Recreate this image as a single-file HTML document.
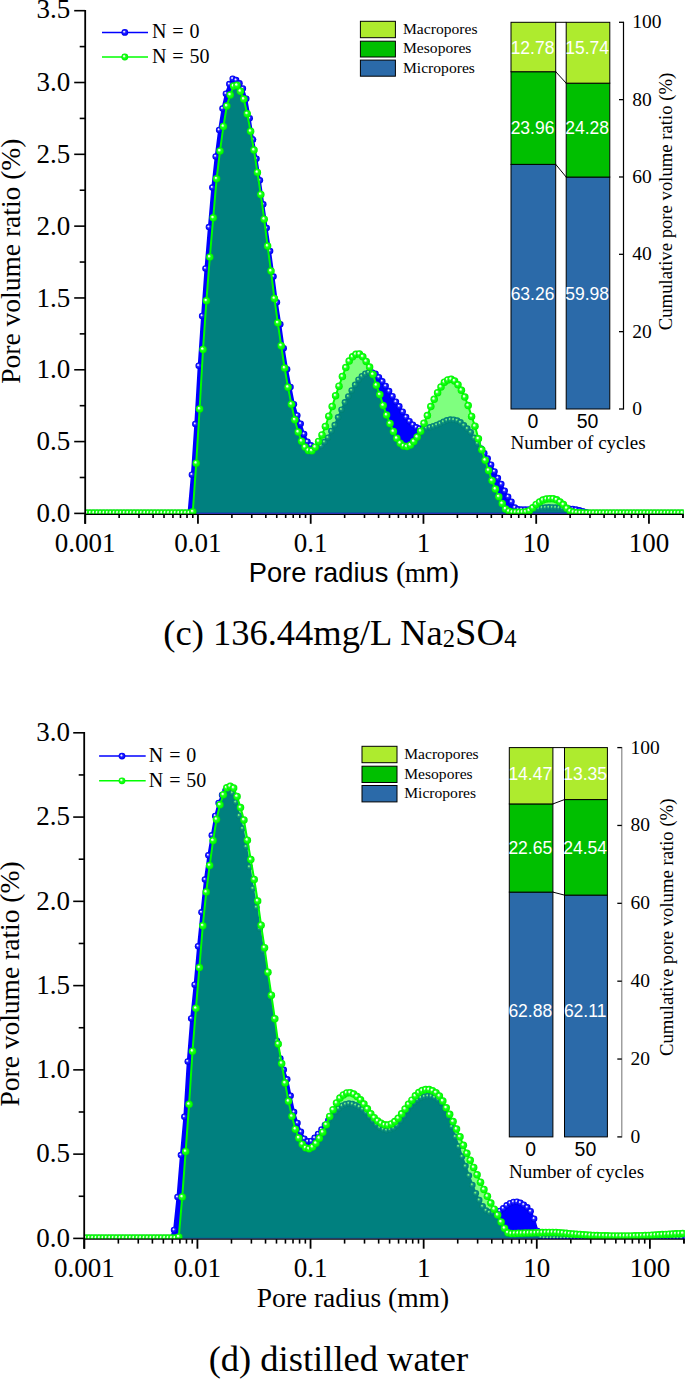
<!DOCTYPE html>
<html><head><meta charset="utf-8"><style>html,body{margin:0;padding:0;background:#fff;overflow:hidden;width:685px;height:1379px;}svg{display:block;}</style></head><body>
<svg width="685" height="1379" viewBox="0 0 685 1379">
<rect width="685" height="1379" fill="#fff"/>
<defs>
<radialGradient id="gg" cx="0.5" cy="0.5" r="0.5" fx="0.36" fy="0.34"><stop offset="0" stop-color="#ffffff"/><stop offset="0.18" stop-color="#e0ffe0"/><stop offset="0.45" stop-color="#20ff20"/><stop offset="0.85" stop-color="#00ff00"/><stop offset="1" stop-color="#00e400"/></radialGradient>
<radialGradient id="gb" cx="0.5" cy="0.5" r="0.5" fx="0.38" fy="0.36"><stop offset="0" stop-color="#ffffff"/><stop offset="0.16" stop-color="#dcdcff"/><stop offset="0.42" stop-color="#2828ff"/><stop offset="0.85" stop-color="#0000ff"/><stop offset="1" stop-color="#0000d8"/></radialGradient>
</defs>
<clipPath id="clipc"><rect x="85.2" y="2.69" width="598.69" height="511.2"/></clipPath>
<g clip-path="url(#clipc)">
<polygon points="86.5,513 86.5,513 89.9,513 93.3,513 96.7,513 100.1,513 103.5,513 106.9,513 110.3,513 113.7,513 117.1,513 120.5,513 123.9,513 127.3,513 130.7,513 134.1,513 137.5,513 140.9,513 144.3,513 147.7,513 151.1,513 154.5,513 157.9,513 161.3,513 164.7,513 168.1,513 171.5,513 174.9,513 178.3,513 181.7,513 185.1,513 188.5,513 191.9,474.63 195.3,424.07 198.7,365.77 202.1,315.92 205.5,268.4 208.9,227.1 212.3,187.55 215.7,156.44 219.1,130 222.5,108.56 225.9,93.64 229.3,84.1 232.7,78.71 236.1,80.08 239.5,83.3 242.9,88.46 246.3,98.76 249.7,118.19 253.1,139.57 256.5,158.76 259.9,180.37 263.3,204.2 266.7,228.08 270.1,251.05 273.5,276.5 276.9,302.33 280.3,324.37 283.7,348.27 287.1,369.13 290.5,386.92 293.9,404.16 297.3,415.4 300.7,423.74 304.1,433.98 307.5,441.74 310.9,445.25 314.3,447.26 317.7,447.59 321.1,445.71 324.5,442 327.9,437.66 331.3,430.97 334.7,425.06 338.1,417.33 341.5,409.64 344.9,402.28 348.3,396.38 351.7,390.46 355.1,384.75 358.5,379.64 361.9,376.15 365.3,373.8 368.7,372.4 372.1,372.4 375.5,373.69 378.9,377.22 382.3,381.24 385.7,385.96 389.1,391.1 392.5,396.13 395.9,401.78 399.3,406.33 402.7,411.7 406.1,417.06 409.5,421.15 412.9,424.74 416.3,427.26 419.7,428.43 423.1,428.4 426.5,427.98 429.9,427.16 433.3,426.2 436.7,424.91 440.1,423.53 443.5,421.87 446.9,420.27 450.3,419.62 453.7,419.74 457.1,420.43 460.5,422.28 463.9,425.25 467.3,428.6 470.7,432.17 474.1,437.8 477.5,443.32 480.9,448.57 484.3,453.36 487.7,458.42 491.1,464.69 494.5,471.41 497.9,478.06 501.3,484.05 504.7,490.83 508.1,496.73 511.5,501.83 514.9,507.54 518.3,509.22 521.7,509.4 525.1,509.4 528.5,509.39 531.9,509.15 535.3,508.77 538.7,508.26 542.1,507.79 545.5,507.46 548.9,507.3 552.3,507.39 555.7,507.58 559.1,507.87 562.5,508.25 565.9,508.55 569.3,508.79 572.7,509.05 576.1,509.48 579.5,510.32 582.9,511.24 586.3,512.34 589.7,512.99 593.1,513 596.5,513 599.9,513 603.3,513 606.7,513 610.1,513 613.5,513 616.9,513 620.3,513 623.7,513 627.1,513 630.5,513 633.9,513 637.3,513 640.7,513 644.1,513 647.5,513 650.9,513 654.3,513 657.7,513 661.1,513 664.5,513 667.9,513 671.3,513 674.7,513 678.1,513 681.5,513 681.5,513" fill="#0000ff"/>
<polyline points="86.5,513 89.9,513 93.3,513 96.7,513 100.1,513 103.5,513 106.9,513 110.3,513 113.7,513 117.1,513 120.5,513 123.9,513 127.3,513 130.7,513 134.1,513 137.5,513 140.9,513 144.3,513 147.7,513 151.1,513 154.5,513 157.9,513 161.3,513 164.7,513 168.1,513 171.5,513 174.9,513 178.3,513 181.7,513 185.1,513 188.5,513 191.9,474.63 195.3,424.07 198.7,365.77 202.1,315.92 205.5,268.4 208.9,227.1 212.3,187.55 215.7,156.44 219.1,130 222.5,108.56 225.9,93.64 229.3,84.1 232.7,78.71 236.1,80.08 239.5,83.3 242.9,88.46 246.3,98.76 249.7,118.19 253.1,139.57 256.5,158.76 259.9,180.37 263.3,204.2 266.7,228.08 270.1,251.05 273.5,276.5 276.9,302.33 280.3,324.37 283.7,348.27 287.1,369.13 290.5,386.92 293.9,404.16 297.3,415.4 300.7,423.74 304.1,433.98 307.5,441.74 310.9,445.25 314.3,447.26 317.7,447.59 321.1,445.71 324.5,442 327.9,437.66 331.3,430.97 334.7,425.06 338.1,417.33 341.5,409.64 344.9,402.28 348.3,396.38 351.7,390.46 355.1,384.75 358.5,379.64 361.9,376.15 365.3,373.8 368.7,372.4 372.1,372.4 375.5,373.69 378.9,377.22 382.3,381.24 385.7,385.96 389.1,391.1 392.5,396.13 395.9,401.78 399.3,406.33 402.7,411.7 406.1,417.06 409.5,421.15 412.9,424.74 416.3,427.26 419.7,428.43 423.1,428.4 426.5,427.98 429.9,427.16 433.3,426.2 436.7,424.91 440.1,423.53 443.5,421.87 446.9,420.27 450.3,419.62 453.7,419.74 457.1,420.43 460.5,422.28 463.9,425.25 467.3,428.6 470.7,432.17 474.1,437.8 477.5,443.32 480.9,448.57 484.3,453.36 487.7,458.42 491.1,464.69 494.5,471.41 497.9,478.06 501.3,484.05 504.7,490.83 508.1,496.73 511.5,501.83 514.9,507.54 518.3,509.22 521.7,509.4 525.1,509.4 528.5,509.39 531.9,509.15 535.3,508.77 538.7,508.26 542.1,507.79 545.5,507.46 548.9,507.3 552.3,507.39 555.7,507.58 559.1,507.87 562.5,508.25 565.9,508.55 569.3,508.79 572.7,509.05 576.1,509.48 579.5,510.32 582.9,511.24 586.3,512.34 589.7,512.99 593.1,513 596.5,513 599.9,513 603.3,513 606.7,513 610.1,513 613.5,513 616.9,513 620.3,513 623.7,513 627.1,513 630.5,513 633.9,513 637.3,513 640.7,513 644.1,513 647.5,513 650.9,513 654.3,513 657.7,513 661.1,513 664.5,513 667.9,513 671.3,513 674.7,513 678.1,513 681.5,513" fill="none" stroke="#0000ff" stroke-width="2"/>
<circle cx="86.5" cy="513" r="3.25" fill="url(#gb)"/>
<circle cx="89.9" cy="513" r="3.25" fill="url(#gb)"/>
<circle cx="93.3" cy="513" r="3.25" fill="url(#gb)"/>
<circle cx="96.7" cy="513" r="3.25" fill="url(#gb)"/>
<circle cx="100.1" cy="513" r="3.25" fill="url(#gb)"/>
<circle cx="103.5" cy="513" r="3.25" fill="url(#gb)"/>
<circle cx="106.9" cy="513" r="3.25" fill="url(#gb)"/>
<circle cx="110.3" cy="513" r="3.25" fill="url(#gb)"/>
<circle cx="113.7" cy="513" r="3.25" fill="url(#gb)"/>
<circle cx="117.1" cy="513" r="3.25" fill="url(#gb)"/>
<circle cx="120.5" cy="513" r="3.25" fill="url(#gb)"/>
<circle cx="123.9" cy="513" r="3.25" fill="url(#gb)"/>
<circle cx="127.3" cy="513" r="3.25" fill="url(#gb)"/>
<circle cx="130.7" cy="513" r="3.25" fill="url(#gb)"/>
<circle cx="134.1" cy="513" r="3.25" fill="url(#gb)"/>
<circle cx="137.5" cy="513" r="3.25" fill="url(#gb)"/>
<circle cx="140.9" cy="513" r="3.25" fill="url(#gb)"/>
<circle cx="144.3" cy="513" r="3.25" fill="url(#gb)"/>
<circle cx="147.7" cy="513" r="3.25" fill="url(#gb)"/>
<circle cx="151.1" cy="513" r="3.25" fill="url(#gb)"/>
<circle cx="154.5" cy="513" r="3.25" fill="url(#gb)"/>
<circle cx="157.9" cy="513" r="3.25" fill="url(#gb)"/>
<circle cx="161.3" cy="513" r="3.25" fill="url(#gb)"/>
<circle cx="164.7" cy="513" r="3.25" fill="url(#gb)"/>
<circle cx="168.1" cy="513" r="3.25" fill="url(#gb)"/>
<circle cx="171.5" cy="513" r="3.25" fill="url(#gb)"/>
<circle cx="174.9" cy="513" r="3.25" fill="url(#gb)"/>
<circle cx="178.3" cy="513" r="3.25" fill="url(#gb)"/>
<circle cx="181.7" cy="513" r="3.25" fill="url(#gb)"/>
<circle cx="185.1" cy="513" r="3.25" fill="url(#gb)"/>
<circle cx="188.5" cy="513" r="3.25" fill="url(#gb)"/>
<circle cx="191.9" cy="474.63" r="3.25" fill="url(#gb)"/>
<circle cx="195.3" cy="424.07" r="3.25" fill="url(#gb)"/>
<circle cx="198.7" cy="365.77" r="3.25" fill="url(#gb)"/>
<circle cx="202.1" cy="315.92" r="3.25" fill="url(#gb)"/>
<circle cx="205.5" cy="268.4" r="3.25" fill="url(#gb)"/>
<circle cx="208.9" cy="227.1" r="3.25" fill="url(#gb)"/>
<circle cx="212.3" cy="187.55" r="3.25" fill="url(#gb)"/>
<circle cx="215.7" cy="156.44" r="3.25" fill="url(#gb)"/>
<circle cx="219.1" cy="130" r="3.25" fill="url(#gb)"/>
<circle cx="222.5" cy="108.56" r="3.25" fill="url(#gb)"/>
<circle cx="225.9" cy="93.64" r="3.25" fill="url(#gb)"/>
<circle cx="229.3" cy="84.1" r="3.25" fill="url(#gb)"/>
<circle cx="232.7" cy="78.71" r="3.25" fill="url(#gb)"/>
<circle cx="236.1" cy="80.08" r="3.25" fill="url(#gb)"/>
<circle cx="239.5" cy="83.3" r="3.25" fill="url(#gb)"/>
<circle cx="242.9" cy="88.46" r="3.25" fill="url(#gb)"/>
<circle cx="246.3" cy="98.76" r="3.25" fill="url(#gb)"/>
<circle cx="249.7" cy="118.19" r="3.25" fill="url(#gb)"/>
<circle cx="253.1" cy="139.57" r="3.25" fill="url(#gb)"/>
<circle cx="256.5" cy="158.76" r="3.25" fill="url(#gb)"/>
<circle cx="259.9" cy="180.37" r="3.25" fill="url(#gb)"/>
<circle cx="263.3" cy="204.2" r="3.25" fill="url(#gb)"/>
<circle cx="266.7" cy="228.08" r="3.25" fill="url(#gb)"/>
<circle cx="270.1" cy="251.05" r="3.25" fill="url(#gb)"/>
<circle cx="273.5" cy="276.5" r="3.25" fill="url(#gb)"/>
<circle cx="276.9" cy="302.33" r="3.25" fill="url(#gb)"/>
<circle cx="280.3" cy="324.37" r="3.25" fill="url(#gb)"/>
<circle cx="283.7" cy="348.27" r="3.25" fill="url(#gb)"/>
<circle cx="287.1" cy="369.13" r="3.25" fill="url(#gb)"/>
<circle cx="290.5" cy="386.92" r="3.25" fill="url(#gb)"/>
<circle cx="293.9" cy="404.16" r="3.25" fill="url(#gb)"/>
<circle cx="297.3" cy="415.4" r="3.25" fill="url(#gb)"/>
<circle cx="300.7" cy="423.74" r="3.25" fill="url(#gb)"/>
<circle cx="304.1" cy="433.98" r="3.25" fill="url(#gb)"/>
<circle cx="307.5" cy="441.74" r="3.25" fill="url(#gb)"/>
<circle cx="310.9" cy="445.25" r="3.25" fill="url(#gb)"/>
<circle cx="314.3" cy="447.26" r="3.25" fill="url(#gb)"/>
<circle cx="317.7" cy="447.59" r="3.25" fill="url(#gb)"/>
<circle cx="321.1" cy="445.71" r="3.25" fill="url(#gb)"/>
<circle cx="324.5" cy="442" r="3.25" fill="url(#gb)"/>
<circle cx="327.9" cy="437.66" r="3.25" fill="url(#gb)"/>
<circle cx="331.3" cy="430.97" r="3.25" fill="url(#gb)"/>
<circle cx="334.7" cy="425.06" r="3.25" fill="url(#gb)"/>
<circle cx="338.1" cy="417.33" r="3.25" fill="url(#gb)"/>
<circle cx="341.5" cy="409.64" r="3.25" fill="url(#gb)"/>
<circle cx="344.9" cy="402.28" r="3.25" fill="url(#gb)"/>
<circle cx="348.3" cy="396.38" r="3.25" fill="url(#gb)"/>
<circle cx="351.7" cy="390.46" r="3.25" fill="url(#gb)"/>
<circle cx="355.1" cy="384.75" r="3.25" fill="url(#gb)"/>
<circle cx="358.5" cy="379.64" r="3.25" fill="url(#gb)"/>
<circle cx="361.9" cy="376.15" r="3.25" fill="url(#gb)"/>
<circle cx="365.3" cy="373.8" r="3.25" fill="url(#gb)"/>
<circle cx="368.7" cy="372.4" r="3.25" fill="url(#gb)"/>
<circle cx="372.1" cy="372.4" r="3.25" fill="url(#gb)"/>
<circle cx="375.5" cy="373.69" r="3.25" fill="url(#gb)"/>
<circle cx="378.9" cy="377.22" r="3.25" fill="url(#gb)"/>
<circle cx="382.3" cy="381.24" r="3.25" fill="url(#gb)"/>
<circle cx="385.7" cy="385.96" r="3.25" fill="url(#gb)"/>
<circle cx="389.1" cy="391.1" r="3.25" fill="url(#gb)"/>
<circle cx="392.5" cy="396.13" r="3.25" fill="url(#gb)"/>
<circle cx="395.9" cy="401.78" r="3.25" fill="url(#gb)"/>
<circle cx="399.3" cy="406.33" r="3.25" fill="url(#gb)"/>
<circle cx="402.7" cy="411.7" r="3.25" fill="url(#gb)"/>
<circle cx="406.1" cy="417.06" r="3.25" fill="url(#gb)"/>
<circle cx="409.5" cy="421.15" r="3.25" fill="url(#gb)"/>
<circle cx="412.9" cy="424.74" r="3.25" fill="url(#gb)"/>
<circle cx="416.3" cy="427.26" r="3.25" fill="url(#gb)"/>
<circle cx="419.7" cy="428.43" r="3.25" fill="url(#gb)"/>
<circle cx="423.1" cy="428.4" r="3.25" fill="url(#gb)"/>
<circle cx="426.5" cy="427.98" r="3.25" fill="url(#gb)"/>
<circle cx="429.9" cy="427.16" r="3.25" fill="url(#gb)"/>
<circle cx="433.3" cy="426.2" r="3.25" fill="url(#gb)"/>
<circle cx="436.7" cy="424.91" r="3.25" fill="url(#gb)"/>
<circle cx="440.1" cy="423.53" r="3.25" fill="url(#gb)"/>
<circle cx="443.5" cy="421.87" r="3.25" fill="url(#gb)"/>
<circle cx="446.9" cy="420.27" r="3.25" fill="url(#gb)"/>
<circle cx="450.3" cy="419.62" r="3.25" fill="url(#gb)"/>
<circle cx="453.7" cy="419.74" r="3.25" fill="url(#gb)"/>
<circle cx="457.1" cy="420.43" r="3.25" fill="url(#gb)"/>
<circle cx="460.5" cy="422.28" r="3.25" fill="url(#gb)"/>
<circle cx="463.9" cy="425.25" r="3.25" fill="url(#gb)"/>
<circle cx="467.3" cy="428.6" r="3.25" fill="url(#gb)"/>
<circle cx="470.7" cy="432.17" r="3.25" fill="url(#gb)"/>
<circle cx="474.1" cy="437.8" r="3.25" fill="url(#gb)"/>
<circle cx="477.5" cy="443.32" r="3.25" fill="url(#gb)"/>
<circle cx="480.9" cy="448.57" r="3.25" fill="url(#gb)"/>
<circle cx="484.3" cy="453.36" r="3.25" fill="url(#gb)"/>
<circle cx="487.7" cy="458.42" r="3.25" fill="url(#gb)"/>
<circle cx="491.1" cy="464.69" r="3.25" fill="url(#gb)"/>
<circle cx="494.5" cy="471.41" r="3.25" fill="url(#gb)"/>
<circle cx="497.9" cy="478.06" r="3.25" fill="url(#gb)"/>
<circle cx="501.3" cy="484.05" r="3.25" fill="url(#gb)"/>
<circle cx="504.7" cy="490.83" r="3.25" fill="url(#gb)"/>
<circle cx="508.1" cy="496.73" r="3.25" fill="url(#gb)"/>
<circle cx="511.5" cy="501.83" r="3.25" fill="url(#gb)"/>
<circle cx="514.9" cy="507.54" r="3.25" fill="url(#gb)"/>
<circle cx="518.3" cy="509.22" r="3.25" fill="url(#gb)"/>
<circle cx="521.7" cy="509.4" r="3.25" fill="url(#gb)"/>
<circle cx="525.1" cy="509.4" r="3.25" fill="url(#gb)"/>
<circle cx="528.5" cy="509.39" r="3.25" fill="url(#gb)"/>
<circle cx="531.9" cy="509.15" r="3.25" fill="url(#gb)"/>
<circle cx="535.3" cy="508.77" r="3.25" fill="url(#gb)"/>
<circle cx="538.7" cy="508.26" r="3.25" fill="url(#gb)"/>
<circle cx="542.1" cy="507.79" r="3.25" fill="url(#gb)"/>
<circle cx="545.5" cy="507.46" r="3.25" fill="url(#gb)"/>
<circle cx="548.9" cy="507.3" r="3.25" fill="url(#gb)"/>
<circle cx="552.3" cy="507.39" r="3.25" fill="url(#gb)"/>
<circle cx="555.7" cy="507.58" r="3.25" fill="url(#gb)"/>
<circle cx="559.1" cy="507.87" r="3.25" fill="url(#gb)"/>
<circle cx="562.5" cy="508.25" r="3.25" fill="url(#gb)"/>
<circle cx="565.9" cy="508.55" r="3.25" fill="url(#gb)"/>
<circle cx="569.3" cy="508.79" r="3.25" fill="url(#gb)"/>
<circle cx="572.7" cy="509.05" r="3.25" fill="url(#gb)"/>
<circle cx="576.1" cy="509.48" r="3.25" fill="url(#gb)"/>
<circle cx="579.5" cy="510.32" r="3.25" fill="url(#gb)"/>
<circle cx="582.9" cy="511.24" r="3.25" fill="url(#gb)"/>
<circle cx="586.3" cy="512.34" r="3.25" fill="url(#gb)"/>
<circle cx="589.7" cy="512.99" r="3.25" fill="url(#gb)"/>
<circle cx="593.1" cy="513" r="3.25" fill="url(#gb)"/>
<circle cx="596.5" cy="513" r="3.25" fill="url(#gb)"/>
<circle cx="599.9" cy="513" r="3.25" fill="url(#gb)"/>
<circle cx="603.3" cy="513" r="3.25" fill="url(#gb)"/>
<circle cx="606.7" cy="513" r="3.25" fill="url(#gb)"/>
<circle cx="610.1" cy="513" r="3.25" fill="url(#gb)"/>
<circle cx="613.5" cy="513" r="3.25" fill="url(#gb)"/>
<circle cx="616.9" cy="513" r="3.25" fill="url(#gb)"/>
<circle cx="620.3" cy="513" r="3.25" fill="url(#gb)"/>
<circle cx="623.7" cy="513" r="3.25" fill="url(#gb)"/>
<circle cx="627.1" cy="513" r="3.25" fill="url(#gb)"/>
<circle cx="630.5" cy="513" r="3.25" fill="url(#gb)"/>
<circle cx="633.9" cy="513" r="3.25" fill="url(#gb)"/>
<circle cx="637.3" cy="513" r="3.25" fill="url(#gb)"/>
<circle cx="640.7" cy="513" r="3.25" fill="url(#gb)"/>
<circle cx="644.1" cy="513" r="3.25" fill="url(#gb)"/>
<circle cx="647.5" cy="513" r="3.25" fill="url(#gb)"/>
<circle cx="650.9" cy="513" r="3.25" fill="url(#gb)"/>
<circle cx="654.3" cy="513" r="3.25" fill="url(#gb)"/>
<circle cx="657.7" cy="513" r="3.25" fill="url(#gb)"/>
<circle cx="661.1" cy="513" r="3.25" fill="url(#gb)"/>
<circle cx="664.5" cy="513" r="3.25" fill="url(#gb)"/>
<circle cx="667.9" cy="513" r="3.25" fill="url(#gb)"/>
<circle cx="671.3" cy="513" r="3.25" fill="url(#gb)"/>
<circle cx="674.7" cy="513" r="3.25" fill="url(#gb)"/>
<circle cx="678.1" cy="513" r="3.25" fill="url(#gb)"/>
<circle cx="681.5" cy="513" r="3.25" fill="url(#gb)"/>
<polygon points="87.4,513 87.4,513 90.8,513 94.2,513 97.6,513 101,513 104.4,513 107.8,513 111.2,513 114.6,513 118,513 121.4,513 124.8,513 128.2,513 131.6,513 135,513 138.4,513 141.8,513 145.2,513 148.6,513 152,513 155.4,513 158.8,513 162.2,513 165.6,513 169,513 172.4,513 175.8,513 179.2,513 182.6,513 186,513 189.4,513 192.8,511.81 196.2,463.22 199.6,409.05 203,349.44 206.4,300.74 209.8,257.1 213.2,217.75 216.6,178.75 220,150.97 223.4,126.4 226.8,105.98 230.2,94.88 233.6,86.11 237,85.35 240.4,91.34 243.8,99.11 247.2,113.7 250.6,131.33 254,150.1 257.4,172.4 260.8,194.43 264.2,219.18 267.6,246.1 271,271.03 274.4,298.46 277.8,322.8 281.2,345.64 284.6,368 288,387.17 291.4,404.25 294.8,419.79 298.2,432.04 301.6,441.13 305,447.03 308.4,450.4 311.8,450.73 315.2,447.17 318.6,441.44 322,434.93 325.4,426.5 328.8,416.27 332.2,406.46 335.6,395.72 339,386.15 342.4,376.54 345.8,367.54 349.2,361.11 352.6,356.79 356,354.34 359.4,354.01 362.8,356.7 366.2,361.4 369.6,367.01 373,374.48 376.4,385.29 379.8,394.6 383.2,405.4 386.6,415.03 390,423.44 393.4,431.5 396.8,438.33 400.2,443.2 403.6,445.9 407,446.59 410.4,445.06 413.8,441.51 417.2,437.1 420.6,431.2 424,423.32 427.4,415.59 430.8,406.56 434.2,399.35 437.6,392.7 441,387.04 444.4,382.19 447.8,379.94 451.2,379.3 454.6,380.93 458,384.77 461.4,390.28 464.8,397.1 468.2,405.62 471.6,416.4 475,426.2 478.4,438.8 481.8,449.85 485.2,460.21 488.6,470.4 492,480.57 495.4,489.1 498.8,496.69 502.2,503.55 505.6,508.9 509,511.35 512.4,512.27 515.8,512.3 519.2,512.3 522.6,512.21 526,511.84 529.4,510.68 532.8,507.79 536.2,504.4 539.6,502.1 543,500.1 546.4,499.01 549.8,498.7 553.2,498.7 556.6,499.8 560,501.93 563.4,504.62 566.8,508.34 570.2,511.18 573.6,512.29 577,512.65 580.4,512.81 583.8,512.92 587.2,512.98 590.6,513 594,513 597.4,513 600.8,513 604.2,513 607.6,513 611,513 614.4,513 617.8,513 621.2,513 624.6,513 628,513 631.4,513 634.8,513 638.2,513 641.6,513 645,513 648.4,513 651.8,513 655.2,513 658.6,513 662,513 665.4,513 668.8,513 672.2,513 675.6,513 679,513 682.4,513 682.4,513" fill="#00ff00" fill-opacity="0.5"/>
<line x1="189" y1="513.25" x2="590" y2="513.25" stroke="#0000e0" stroke-width="1.1"/>
<polyline points="87.4,513 90.8,513 94.2,513 97.6,513 101,513 104.4,513 107.8,513 111.2,513 114.6,513 118,513 121.4,513 124.8,513 128.2,513 131.6,513 135,513 138.4,513 141.8,513 145.2,513 148.6,513 152,513 155.4,513 158.8,513 162.2,513 165.6,513 169,513 172.4,513 175.8,513 179.2,513 182.6,513 186,513 189.4,513 192.8,511.81 196.2,463.22 199.6,409.05 203,349.44 206.4,300.74 209.8,257.1 213.2,217.75 216.6,178.75 220,150.97 223.4,126.4 226.8,105.98 230.2,94.88 233.6,86.11 237,85.35 240.4,91.34 243.8,99.11 247.2,113.7 250.6,131.33 254,150.1 257.4,172.4 260.8,194.43 264.2,219.18 267.6,246.1 271,271.03 274.4,298.46 277.8,322.8 281.2,345.64 284.6,368 288,387.17 291.4,404.25 294.8,419.79 298.2,432.04 301.6,441.13 305,447.03 308.4,450.4 311.8,450.73 315.2,447.17 318.6,441.44 322,434.93 325.4,426.5 328.8,416.27 332.2,406.46 335.6,395.72 339,386.15 342.4,376.54 345.8,367.54 349.2,361.11 352.6,356.79 356,354.34 359.4,354.01 362.8,356.7 366.2,361.4 369.6,367.01 373,374.48 376.4,385.29 379.8,394.6 383.2,405.4 386.6,415.03 390,423.44 393.4,431.5 396.8,438.33 400.2,443.2 403.6,445.9 407,446.59 410.4,445.06 413.8,441.51 417.2,437.1 420.6,431.2 424,423.32 427.4,415.59 430.8,406.56 434.2,399.35 437.6,392.7 441,387.04 444.4,382.19 447.8,379.94 451.2,379.3 454.6,380.93 458,384.77 461.4,390.28 464.8,397.1 468.2,405.62 471.6,416.4 475,426.2 478.4,438.8 481.8,449.85 485.2,460.21 488.6,470.4 492,480.57 495.4,489.1 498.8,496.69 502.2,503.55 505.6,508.9 509,511.35 512.4,512.27 515.8,512.3 519.2,512.3 522.6,512.21 526,511.84 529.4,510.68 532.8,507.79 536.2,504.4 539.6,502.1 543,500.1 546.4,499.01 549.8,498.7 553.2,498.7 556.6,499.8 560,501.93 563.4,504.62 566.8,508.34 570.2,511.18 573.6,512.29 577,512.65 580.4,512.81 583.8,512.92 587.2,512.98 590.6,513 594,513 597.4,513 600.8,513 604.2,513 607.6,513 611,513 614.4,513 617.8,513 621.2,513 624.6,513 628,513 631.4,513 634.8,513 638.2,513 641.6,513 645,513 648.4,513 651.8,513 655.2,513 658.6,513 662,513 665.4,513 668.8,513 672.2,513 675.6,513 679,513 682.4,513" fill="none" stroke="#00ff00" stroke-width="2"/>
<circle cx="87.4" cy="513" r="3.75" fill="url(#gg)"/>
<circle cx="90.8" cy="513" r="3.75" fill="url(#gg)"/>
<circle cx="94.2" cy="513" r="3.75" fill="url(#gg)"/>
<circle cx="97.6" cy="513" r="3.75" fill="url(#gg)"/>
<circle cx="101" cy="513" r="3.75" fill="url(#gg)"/>
<circle cx="104.4" cy="513" r="3.75" fill="url(#gg)"/>
<circle cx="107.8" cy="513" r="3.75" fill="url(#gg)"/>
<circle cx="111.2" cy="513" r="3.75" fill="url(#gg)"/>
<circle cx="114.6" cy="513" r="3.75" fill="url(#gg)"/>
<circle cx="118" cy="513" r="3.75" fill="url(#gg)"/>
<circle cx="121.4" cy="513" r="3.75" fill="url(#gg)"/>
<circle cx="124.8" cy="513" r="3.75" fill="url(#gg)"/>
<circle cx="128.2" cy="513" r="3.75" fill="url(#gg)"/>
<circle cx="131.6" cy="513" r="3.75" fill="url(#gg)"/>
<circle cx="135" cy="513" r="3.75" fill="url(#gg)"/>
<circle cx="138.4" cy="513" r="3.75" fill="url(#gg)"/>
<circle cx="141.8" cy="513" r="3.75" fill="url(#gg)"/>
<circle cx="145.2" cy="513" r="3.75" fill="url(#gg)"/>
<circle cx="148.6" cy="513" r="3.75" fill="url(#gg)"/>
<circle cx="152" cy="513" r="3.75" fill="url(#gg)"/>
<circle cx="155.4" cy="513" r="3.75" fill="url(#gg)"/>
<circle cx="158.8" cy="513" r="3.75" fill="url(#gg)"/>
<circle cx="162.2" cy="513" r="3.75" fill="url(#gg)"/>
<circle cx="165.6" cy="513" r="3.75" fill="url(#gg)"/>
<circle cx="169" cy="513" r="3.75" fill="url(#gg)"/>
<circle cx="172.4" cy="513" r="3.75" fill="url(#gg)"/>
<circle cx="175.8" cy="513" r="3.75" fill="url(#gg)"/>
<circle cx="179.2" cy="513" r="3.75" fill="url(#gg)"/>
<circle cx="182.6" cy="513" r="3.75" fill="url(#gg)"/>
<circle cx="186" cy="513" r="3.75" fill="url(#gg)"/>
<circle cx="189.4" cy="513" r="3.75" fill="url(#gg)"/>
<circle cx="192.8" cy="511.81" r="3.75" fill="url(#gg)"/>
<circle cx="196.2" cy="463.22" r="3.75" fill="url(#gg)"/>
<circle cx="199.6" cy="409.05" r="3.75" fill="url(#gg)"/>
<circle cx="203" cy="349.44" r="3.75" fill="url(#gg)"/>
<circle cx="206.4" cy="300.74" r="3.75" fill="url(#gg)"/>
<circle cx="209.8" cy="257.1" r="3.75" fill="url(#gg)"/>
<circle cx="213.2" cy="217.75" r="3.75" fill="url(#gg)"/>
<circle cx="216.6" cy="178.75" r="3.75" fill="url(#gg)"/>
<circle cx="220" cy="150.97" r="3.75" fill="url(#gg)"/>
<circle cx="223.4" cy="126.4" r="3.75" fill="url(#gg)"/>
<circle cx="226.8" cy="105.98" r="3.75" fill="url(#gg)"/>
<circle cx="230.2" cy="94.88" r="3.75" fill="url(#gg)"/>
<circle cx="233.6" cy="86.11" r="3.75" fill="url(#gg)"/>
<circle cx="237" cy="85.35" r="3.75" fill="url(#gg)"/>
<circle cx="240.4" cy="91.34" r="3.75" fill="url(#gg)"/>
<circle cx="243.8" cy="99.11" r="3.75" fill="url(#gg)"/>
<circle cx="247.2" cy="113.7" r="3.75" fill="url(#gg)"/>
<circle cx="250.6" cy="131.33" r="3.75" fill="url(#gg)"/>
<circle cx="254" cy="150.1" r="3.75" fill="url(#gg)"/>
<circle cx="257.4" cy="172.4" r="3.75" fill="url(#gg)"/>
<circle cx="260.8" cy="194.43" r="3.75" fill="url(#gg)"/>
<circle cx="264.2" cy="219.18" r="3.75" fill="url(#gg)"/>
<circle cx="267.6" cy="246.1" r="3.75" fill="url(#gg)"/>
<circle cx="271" cy="271.03" r="3.75" fill="url(#gg)"/>
<circle cx="274.4" cy="298.46" r="3.75" fill="url(#gg)"/>
<circle cx="277.8" cy="322.8" r="3.75" fill="url(#gg)"/>
<circle cx="281.2" cy="345.64" r="3.75" fill="url(#gg)"/>
<circle cx="284.6" cy="368" r="3.75" fill="url(#gg)"/>
<circle cx="288" cy="387.17" r="3.75" fill="url(#gg)"/>
<circle cx="291.4" cy="404.25" r="3.75" fill="url(#gg)"/>
<circle cx="294.8" cy="419.79" r="3.75" fill="url(#gg)"/>
<circle cx="298.2" cy="432.04" r="3.75" fill="url(#gg)"/>
<circle cx="301.6" cy="441.13" r="3.75" fill="url(#gg)"/>
<circle cx="305" cy="447.03" r="3.75" fill="url(#gg)"/>
<circle cx="308.4" cy="450.4" r="3.75" fill="url(#gg)"/>
<circle cx="311.8" cy="450.73" r="3.75" fill="url(#gg)"/>
<circle cx="315.2" cy="447.17" r="3.75" fill="url(#gg)"/>
<circle cx="318.6" cy="441.44" r="3.75" fill="url(#gg)"/>
<circle cx="322" cy="434.93" r="3.75" fill="url(#gg)"/>
<circle cx="325.4" cy="426.5" r="3.75" fill="url(#gg)"/>
<circle cx="328.8" cy="416.27" r="3.75" fill="url(#gg)"/>
<circle cx="332.2" cy="406.46" r="3.75" fill="url(#gg)"/>
<circle cx="335.6" cy="395.72" r="3.75" fill="url(#gg)"/>
<circle cx="339" cy="386.15" r="3.75" fill="url(#gg)"/>
<circle cx="342.4" cy="376.54" r="3.75" fill="url(#gg)"/>
<circle cx="345.8" cy="367.54" r="3.75" fill="url(#gg)"/>
<circle cx="349.2" cy="361.11" r="3.75" fill="url(#gg)"/>
<circle cx="352.6" cy="356.79" r="3.75" fill="url(#gg)"/>
<circle cx="356" cy="354.34" r="3.75" fill="url(#gg)"/>
<circle cx="359.4" cy="354.01" r="3.75" fill="url(#gg)"/>
<circle cx="362.8" cy="356.7" r="3.75" fill="url(#gg)"/>
<circle cx="366.2" cy="361.4" r="3.75" fill="url(#gg)"/>
<circle cx="369.6" cy="367.01" r="3.75" fill="url(#gg)"/>
<circle cx="373" cy="374.48" r="3.75" fill="url(#gg)"/>
<circle cx="376.4" cy="385.29" r="3.75" fill="url(#gg)"/>
<circle cx="379.8" cy="394.6" r="3.75" fill="url(#gg)"/>
<circle cx="383.2" cy="405.4" r="3.75" fill="url(#gg)"/>
<circle cx="386.6" cy="415.03" r="3.75" fill="url(#gg)"/>
<circle cx="390" cy="423.44" r="3.75" fill="url(#gg)"/>
<circle cx="393.4" cy="431.5" r="3.75" fill="url(#gg)"/>
<circle cx="396.8" cy="438.33" r="3.75" fill="url(#gg)"/>
<circle cx="400.2" cy="443.2" r="3.75" fill="url(#gg)"/>
<circle cx="403.6" cy="445.9" r="3.75" fill="url(#gg)"/>
<circle cx="407" cy="446.59" r="3.75" fill="url(#gg)"/>
<circle cx="410.4" cy="445.06" r="3.75" fill="url(#gg)"/>
<circle cx="413.8" cy="441.51" r="3.75" fill="url(#gg)"/>
<circle cx="417.2" cy="437.1" r="3.75" fill="url(#gg)"/>
<circle cx="420.6" cy="431.2" r="3.75" fill="url(#gg)"/>
<circle cx="424" cy="423.32" r="3.75" fill="url(#gg)"/>
<circle cx="427.4" cy="415.59" r="3.75" fill="url(#gg)"/>
<circle cx="430.8" cy="406.56" r="3.75" fill="url(#gg)"/>
<circle cx="434.2" cy="399.35" r="3.75" fill="url(#gg)"/>
<circle cx="437.6" cy="392.7" r="3.75" fill="url(#gg)"/>
<circle cx="441" cy="387.04" r="3.75" fill="url(#gg)"/>
<circle cx="444.4" cy="382.19" r="3.75" fill="url(#gg)"/>
<circle cx="447.8" cy="379.94" r="3.75" fill="url(#gg)"/>
<circle cx="451.2" cy="379.3" r="3.75" fill="url(#gg)"/>
<circle cx="454.6" cy="380.93" r="3.75" fill="url(#gg)"/>
<circle cx="458" cy="384.77" r="3.75" fill="url(#gg)"/>
<circle cx="461.4" cy="390.28" r="3.75" fill="url(#gg)"/>
<circle cx="464.8" cy="397.1" r="3.75" fill="url(#gg)"/>
<circle cx="468.2" cy="405.62" r="3.75" fill="url(#gg)"/>
<circle cx="471.6" cy="416.4" r="3.75" fill="url(#gg)"/>
<circle cx="475" cy="426.2" r="3.75" fill="url(#gg)"/>
<circle cx="478.4" cy="438.8" r="3.75" fill="url(#gg)"/>
<circle cx="481.8" cy="449.85" r="3.75" fill="url(#gg)"/>
<circle cx="485.2" cy="460.21" r="3.75" fill="url(#gg)"/>
<circle cx="488.6" cy="470.4" r="3.75" fill="url(#gg)"/>
<circle cx="492" cy="480.57" r="3.75" fill="url(#gg)"/>
<circle cx="495.4" cy="489.1" r="3.75" fill="url(#gg)"/>
<circle cx="498.8" cy="496.69" r="3.75" fill="url(#gg)"/>
<circle cx="502.2" cy="503.55" r="3.75" fill="url(#gg)"/>
<circle cx="505.6" cy="508.9" r="3.75" fill="url(#gg)"/>
<circle cx="509" cy="511.35" r="3.75" fill="url(#gg)"/>
<circle cx="512.4" cy="512.27" r="3.75" fill="url(#gg)"/>
<circle cx="515.8" cy="512.3" r="3.75" fill="url(#gg)"/>
<circle cx="519.2" cy="512.3" r="3.75" fill="url(#gg)"/>
<circle cx="522.6" cy="512.21" r="3.75" fill="url(#gg)"/>
<circle cx="526" cy="511.84" r="3.75" fill="url(#gg)"/>
<circle cx="529.4" cy="510.68" r="3.75" fill="url(#gg)"/>
<circle cx="532.8" cy="507.79" r="3.75" fill="url(#gg)"/>
<circle cx="536.2" cy="504.4" r="3.75" fill="url(#gg)"/>
<circle cx="539.6" cy="502.1" r="3.75" fill="url(#gg)"/>
<circle cx="543" cy="500.1" r="3.75" fill="url(#gg)"/>
<circle cx="546.4" cy="499.01" r="3.75" fill="url(#gg)"/>
<circle cx="549.8" cy="498.7" r="3.75" fill="url(#gg)"/>
<circle cx="553.2" cy="498.7" r="3.75" fill="url(#gg)"/>
<circle cx="556.6" cy="499.8" r="3.75" fill="url(#gg)"/>
<circle cx="560" cy="501.93" r="3.75" fill="url(#gg)"/>
<circle cx="563.4" cy="504.62" r="3.75" fill="url(#gg)"/>
<circle cx="566.8" cy="508.34" r="3.75" fill="url(#gg)"/>
<circle cx="570.2" cy="511.18" r="3.75" fill="url(#gg)"/>
<circle cx="573.6" cy="512.29" r="3.75" fill="url(#gg)"/>
<circle cx="577" cy="512.65" r="3.75" fill="url(#gg)"/>
<circle cx="580.4" cy="512.81" r="3.75" fill="url(#gg)"/>
<circle cx="583.8" cy="512.92" r="3.75" fill="url(#gg)"/>
<circle cx="587.2" cy="512.98" r="3.75" fill="url(#gg)"/>
<circle cx="590.6" cy="513" r="3.75" fill="url(#gg)"/>
<circle cx="594" cy="513" r="3.75" fill="url(#gg)"/>
<circle cx="597.4" cy="513" r="3.75" fill="url(#gg)"/>
<circle cx="600.8" cy="513" r="3.75" fill="url(#gg)"/>
<circle cx="604.2" cy="513" r="3.75" fill="url(#gg)"/>
<circle cx="607.6" cy="513" r="3.75" fill="url(#gg)"/>
<circle cx="611" cy="513" r="3.75" fill="url(#gg)"/>
<circle cx="614.4" cy="513" r="3.75" fill="url(#gg)"/>
<circle cx="617.8" cy="513" r="3.75" fill="url(#gg)"/>
<circle cx="621.2" cy="513" r="3.75" fill="url(#gg)"/>
<circle cx="624.6" cy="513" r="3.75" fill="url(#gg)"/>
<circle cx="628" cy="513" r="3.75" fill="url(#gg)"/>
<circle cx="631.4" cy="513" r="3.75" fill="url(#gg)"/>
<circle cx="634.8" cy="513" r="3.75" fill="url(#gg)"/>
<circle cx="638.2" cy="513" r="3.75" fill="url(#gg)"/>
<circle cx="641.6" cy="513" r="3.75" fill="url(#gg)"/>
<circle cx="645" cy="513" r="3.75" fill="url(#gg)"/>
<circle cx="648.4" cy="513" r="3.75" fill="url(#gg)"/>
<circle cx="651.8" cy="513" r="3.75" fill="url(#gg)"/>
<circle cx="655.2" cy="513" r="3.75" fill="url(#gg)"/>
<circle cx="658.6" cy="513" r="3.75" fill="url(#gg)"/>
<circle cx="662" cy="513" r="3.75" fill="url(#gg)"/>
<circle cx="665.4" cy="513" r="3.75" fill="url(#gg)"/>
<circle cx="668.8" cy="513" r="3.75" fill="url(#gg)"/>
<circle cx="672.2" cy="513" r="3.75" fill="url(#gg)"/>
<circle cx="675.6" cy="513" r="3.75" fill="url(#gg)"/>
<circle cx="679" cy="513" r="3.75" fill="url(#gg)"/>
<circle cx="682.4" cy="513" r="3.75" fill="url(#gg)"/>
</g>
<g stroke="#000" fill="none">
<line x1="85.2" y1="9.89" x2="85.2" y2="523.8" stroke-width="1.8"/>
<line x1="85.2" y1="514.3" x2="683.69" y2="514.3" stroke-width="1.2"/>
<line x1="74.2" y1="513.4" x2="85.2" y2="513.4" stroke-width="1.6"/>
<line x1="79.7" y1="477.49" x2="85.2" y2="477.49" stroke-width="1.6"/>
<line x1="74.2" y1="441.58" x2="85.2" y2="441.58" stroke-width="1.6"/>
<line x1="79.7" y1="405.68" x2="85.2" y2="405.68" stroke-width="1.6"/>
<line x1="74.2" y1="369.77" x2="85.2" y2="369.77" stroke-width="1.6"/>
<line x1="79.7" y1="333.86" x2="85.2" y2="333.86" stroke-width="1.6"/>
<line x1="74.2" y1="297.95" x2="85.2" y2="297.95" stroke-width="1.6"/>
<line x1="79.7" y1="262.05" x2="85.2" y2="262.05" stroke-width="1.6"/>
<line x1="74.2" y1="226.14" x2="85.2" y2="226.14" stroke-width="1.6"/>
<line x1="79.7" y1="190.23" x2="85.2" y2="190.23" stroke-width="1.6"/>
<line x1="74.2" y1="154.32" x2="85.2" y2="154.32" stroke-width="1.6"/>
<line x1="79.7" y1="118.42" x2="85.2" y2="118.42" stroke-width="1.6"/>
<line x1="74.2" y1="82.51" x2="85.2" y2="82.51" stroke-width="1.6"/>
<line x1="79.7" y1="46.6" x2="85.2" y2="46.6" stroke-width="1.6"/>
<line x1="74.2" y1="10.69" x2="85.2" y2="10.69" stroke-width="1.6"/>
<line x1="85.2" y1="514.3" x2="85.2" y2="523.8" stroke-width="1.8"/>
<line x1="119.14" y1="514.3" x2="119.14" y2="518" stroke-width="1.6"/>
<line x1="139" y1="514.3" x2="139" y2="518" stroke-width="1.6"/>
<line x1="153.08" y1="514.3" x2="153.08" y2="518" stroke-width="1.6"/>
<line x1="164.01" y1="514.3" x2="164.01" y2="518" stroke-width="1.6"/>
<line x1="172.94" y1="514.3" x2="172.94" y2="518" stroke-width="1.6"/>
<line x1="180.48" y1="514.3" x2="180.48" y2="518" stroke-width="1.6"/>
<line x1="187.02" y1="514.3" x2="187.02" y2="518" stroke-width="1.6"/>
<line x1="192.79" y1="514.3" x2="192.79" y2="518" stroke-width="1.6"/>
<line x1="197.95" y1="514.3" x2="197.95" y2="523.8" stroke-width="1.8"/>
<line x1="231.89" y1="514.3" x2="231.89" y2="518" stroke-width="1.6"/>
<line x1="251.75" y1="514.3" x2="251.75" y2="518" stroke-width="1.6"/>
<line x1="265.83" y1="514.3" x2="265.83" y2="518" stroke-width="1.6"/>
<line x1="276.76" y1="514.3" x2="276.76" y2="518" stroke-width="1.6"/>
<line x1="285.69" y1="514.3" x2="285.69" y2="518" stroke-width="1.6"/>
<line x1="293.23" y1="514.3" x2="293.23" y2="518" stroke-width="1.6"/>
<line x1="299.77" y1="514.3" x2="299.77" y2="518" stroke-width="1.6"/>
<line x1="305.54" y1="514.3" x2="305.54" y2="518" stroke-width="1.6"/>
<line x1="310.7" y1="514.3" x2="310.7" y2="523.8" stroke-width="1.8"/>
<line x1="344.64" y1="514.3" x2="344.64" y2="518" stroke-width="1.6"/>
<line x1="364.5" y1="514.3" x2="364.5" y2="518" stroke-width="1.6"/>
<line x1="378.58" y1="514.3" x2="378.58" y2="518" stroke-width="1.6"/>
<line x1="389.51" y1="514.3" x2="389.51" y2="518" stroke-width="1.6"/>
<line x1="398.44" y1="514.3" x2="398.44" y2="518" stroke-width="1.6"/>
<line x1="405.98" y1="514.3" x2="405.98" y2="518" stroke-width="1.6"/>
<line x1="412.52" y1="514.3" x2="412.52" y2="518" stroke-width="1.6"/>
<line x1="418.29" y1="514.3" x2="418.29" y2="518" stroke-width="1.6"/>
<line x1="423.45" y1="514.3" x2="423.45" y2="523.8" stroke-width="1.8"/>
<line x1="457.39" y1="514.3" x2="457.39" y2="518" stroke-width="1.6"/>
<line x1="477.25" y1="514.3" x2="477.25" y2="518" stroke-width="1.6"/>
<line x1="491.33" y1="514.3" x2="491.33" y2="518" stroke-width="1.6"/>
<line x1="502.26" y1="514.3" x2="502.26" y2="518" stroke-width="1.6"/>
<line x1="511.19" y1="514.3" x2="511.19" y2="518" stroke-width="1.6"/>
<line x1="518.73" y1="514.3" x2="518.73" y2="518" stroke-width="1.6"/>
<line x1="525.27" y1="514.3" x2="525.27" y2="518" stroke-width="1.6"/>
<line x1="531.04" y1="514.3" x2="531.04" y2="518" stroke-width="1.6"/>
<line x1="536.2" y1="514.3" x2="536.2" y2="523.8" stroke-width="1.8"/>
<line x1="570.14" y1="514.3" x2="570.14" y2="518" stroke-width="1.6"/>
<line x1="590" y1="514.3" x2="590" y2="518" stroke-width="1.6"/>
<line x1="604.08" y1="514.3" x2="604.08" y2="518" stroke-width="1.6"/>
<line x1="615.01" y1="514.3" x2="615.01" y2="518" stroke-width="1.6"/>
<line x1="623.94" y1="514.3" x2="623.94" y2="518" stroke-width="1.6"/>
<line x1="631.48" y1="514.3" x2="631.48" y2="518" stroke-width="1.6"/>
<line x1="638.02" y1="514.3" x2="638.02" y2="518" stroke-width="1.6"/>
<line x1="643.79" y1="514.3" x2="643.79" y2="518" stroke-width="1.6"/>
<line x1="648.95" y1="514.3" x2="648.95" y2="523.8" stroke-width="1.8"/>
<line x1="682.89" y1="514.3" x2="682.89" y2="518" stroke-width="1.6"/>
<line x1="682.89" y1="514.3" x2="682.89" y2="518" stroke-width="1.6"/>
</g>
<g font-family="Liberation Serif" font-size="27" fill="#000">
<text x="70.2" y="522" text-anchor="end">0.0</text>
<text x="70.2" y="450.19" text-anchor="end">0.5</text>
<text x="70.2" y="378.37" text-anchor="end">1.0</text>
<text x="70.2" y="306.56" text-anchor="end">1.5</text>
<text x="70.2" y="234.74" text-anchor="end">2.0</text>
<text x="70.2" y="162.92" text-anchor="end">2.5</text>
<text x="70.2" y="91.11" text-anchor="end">3.0</text>
<text x="70.2" y="17.79" text-anchor="end">3.5</text>
<text x="85.2" y="551.5" text-anchor="middle">0.001</text>
<text x="197.95" y="551.5" text-anchor="middle">0.01</text>
<text x="310.7" y="551.5" text-anchor="middle">0.1</text>
<text x="423.45" y="551.5" text-anchor="middle">1</text>
<text x="536.2" y="551.5" text-anchor="middle">10</text>
<text x="648.95" y="551.5" text-anchor="middle">100</text>
</g>
<line x1="102" y1="32.4" x2="148" y2="32.4" stroke="#0000ff" stroke-width="1.5"/>
<circle cx="124.8" cy="32.4" r="3.4" fill="url(#gb)"/>
<text x="151.9" y="38" font-family="Liberation Serif" font-size="20" word-spacing="0.9">N = 0</text>
<line x1="102" y1="57" x2="148" y2="57" stroke="#00ff00" stroke-width="1.5"/>
<circle cx="124.8" cy="57" r="3.4" fill="url(#gg)"/>
<text x="151.9" y="63.3" font-family="Liberation Serif" font-size="20" word-spacing="0.9">N = 50</text>
<rect x="511" y="164.37" width="44.7" height="244.63" fill="#2b6aa9" stroke="#000" stroke-width="1"/>
<rect x="511" y="71.72" width="44.7" height="92.65" fill="#00bf00" stroke="#000" stroke-width="1"/>
<rect x="511" y="22.3" width="44.7" height="49.42" fill="#aeeb2e" stroke="#000" stroke-width="1"/>
<rect x="566.2" y="177.06" width="43.6" height="231.94" fill="#2b6aa9" stroke="#000" stroke-width="1"/>
<rect x="566.2" y="83.17" width="43.6" height="93.89" fill="#00bf00" stroke="#000" stroke-width="1"/>
<rect x="566.2" y="22.3" width="43.6" height="60.87" fill="#aeeb2e" stroke="#000" stroke-width="1"/>
<line x1="555.7" y1="164.37" x2="566.2" y2="177.06" stroke="#000" stroke-width="1"/>
<line x1="555.7" y1="22.3" x2="566.2" y2="22.3" stroke="#000" stroke-width="1"/>
<line x1="555.7" y1="71.72" x2="566.2" y2="83.17" stroke="#000" stroke-width="1"/>
<g font-family="Liberation Sans" font-size="17.5" fill="#fff" text-anchor="middle">
<text x="532.55" y="54">12.78</text>
<text x="532.55" y="134.4">23.96</text>
<text x="532.55" y="300">63.26</text>
<text x="587.2" y="54">15.74</text>
<text x="587.2" y="134.4">24.28</text>
<text x="587.2" y="300">59.98</text>
</g>
<line x1="623.5" y1="21.8" x2="623.5" y2="409.5" stroke="#000" stroke-width="1.2"/>
<g font-family="Liberation Serif" font-size="19.5">
<line x1="619" y1="409" x2="623.5" y2="409" stroke="#000" stroke-width="1.3"/>
<text x="632.2" y="414.9">0</text>
<line x1="619" y1="331.66" x2="623.5" y2="331.66" stroke="#000" stroke-width="1.3"/>
<text x="632.2" y="337.56">20</text>
<line x1="619" y1="254.32" x2="623.5" y2="254.32" stroke="#000" stroke-width="1.3"/>
<text x="632.2" y="260.22">40</text>
<line x1="619" y1="176.98" x2="623.5" y2="176.98" stroke="#000" stroke-width="1.3"/>
<text x="632.2" y="182.88">60</text>
<line x1="619" y1="99.64" x2="623.5" y2="99.64" stroke="#000" stroke-width="1.3"/>
<text x="632.2" y="105.54">80</text>
<line x1="619" y1="22.3" x2="623.5" y2="22.3" stroke="#000" stroke-width="1.3"/>
<text x="632.2" y="28.2">100</text>
</g>
<g font-family="Liberation Sans" font-size="19.5" text-anchor="middle">
<text x="532.85" y="427.8">0</text>
<text x="587.5" y="427.8">50</text>
</g>
<text x="578.1" y="449" font-family="Liberation Serif" font-size="19" text-anchor="middle">Number of cycles</text>
<text transform="translate(672,201.5) rotate(-90)" font-family="Liberation Serif" font-size="18.7" text-anchor="middle">Cumulative pore volume ratio (%)</text>
<rect x="360.4" y="21.3" width="35" height="16.4" fill="#aeeb2e" stroke="#000" stroke-width="1"/>
<text x="403" y="33.7" font-family="Liberation Serif" font-size="15.6">Macropores</text>
<rect x="360.4" y="41.2" width="35" height="15.8" fill="#00bf00" stroke="#000" stroke-width="1"/>
<text x="403" y="53.1" font-family="Liberation Serif" font-size="15.6">Mesopores</text>
<rect x="360.4" y="60.1" width="35" height="16.1" fill="#2b6aa9" stroke="#000" stroke-width="1"/>
<text x="403" y="72.9" font-family="Liberation Serif" font-size="15.6">Micropores</text>
<text x="248.7" y="581.6" font-family="Liberation Sans" font-size="27.3">Pore radius</text>
<text x="396.1" y="581.6" font-family="Liberation Serif" font-size="29">(</text>
<text x="404.7" y="581.6" font-family="Liberation Serif" font-size="27.3">m</text>
<text x="425.4" y="581.6" font-family="Liberation Sans" font-size="28">m</text>
<text x="449.3" y="581.6" font-family="Liberation Serif" font-size="29">)</text>
<text transform="translate(20.3,261.2) rotate(-90)" font-family="Liberation Serif" font-size="27.5" text-anchor="middle">Pore volume ratio (%)</text>
<text x="163.3" y="644.6" font-family="Liberation Serif" font-size="36.5">(c) 136.44mg/L Na<tspan font-size="24.5" dy="2.8">2</tspan><tspan font-size="38.5" dy="-2.8">SO</tspan><tspan font-size="24.5" dy="2.8">4</tspan></text>
<clipPath id="clipd"><rect x="84.3" y="724.81" width="600.65" height="514.09"/></clipPath>
<g clip-path="url(#clipd)">
<polygon points="84.9,1238 84.9,1238 88.33,1238 91.76,1238 95.19,1238 98.62,1238 102.05,1238 105.47,1238 108.9,1238 112.33,1238 115.76,1238 119.19,1238 122.62,1238 126.05,1238 129.48,1238 132.91,1238 136.34,1238 139.76,1238 143.19,1238 146.62,1238 150.05,1238 153.48,1238 156.91,1238 160.34,1238 163.77,1238 167.2,1238 170.63,1238 174.05,1229.99 177.48,1197.06 180.91,1155.06 184.34,1116.86 187.77,1061.45 191.2,1018.41 194.63,984.65 198.06,946.22 201.49,912.34 204.92,879.55 208.34,855.28 211.77,835.28 215.2,815.89 218.63,802.91 222.06,795.07 225.49,790.56 228.92,789.5 232.35,792.92 235.78,802.15 239.21,815.7 242.63,828.48 246.06,846.66 249.49,866.98 252.92,888.44 256.35,907.21 259.78,928.63 263.21,950.47 266.64,972.33 270.07,996.94 273.5,1018.47 276.92,1040.73 280.35,1058.62 283.78,1069.79 287.21,1079.34 290.64,1095.87 294.07,1112.05 297.5,1122.93 300.93,1131.82 304.36,1138.69 307.79,1141.3 311.21,1141.05 314.64,1137.85 318.07,1133.95 321.5,1129.56 324.93,1124.94 328.36,1120.28 331.79,1115.76 335.22,1111.76 338.65,1108.44 342.08,1105.76 345.5,1104.16 348.93,1103.4 352.36,1104.02 355.79,1105.14 359.22,1106.84 362.65,1109.08 366.08,1112.21 369.51,1116.42 372.94,1120.48 376.37,1124.27 379.79,1127.48 383.22,1129.26 386.65,1130.19 390.08,1129.61 393.51,1128.06 396.94,1125.19 400.37,1120.73 403.8,1115.78 407.23,1110.45 410.66,1106.03 414.08,1102.29 417.51,1099.58 420.94,1097.57 424.37,1096.56 427.8,1095.96 431.23,1096.16 434.66,1097.35 438.09,1099.28 441.52,1102.9 444.95,1108.3 448.37,1116.57 451.8,1126.7 455.23,1136.7 458.66,1146.45 462.09,1156.57 465.52,1166.11 468.95,1175.52 472.38,1184.95 475.81,1193.28 479.24,1200.05 482.66,1206.3 486.09,1210.45 489.52,1212.31 492.95,1212.4 496.38,1211.93 499.81,1210.88 503.24,1208.29 506.67,1205.28 510.1,1203.15 513.53,1201.95 516.95,1201.7 520.38,1202.8 523.81,1204.73 527.24,1207.27 530.67,1211.26 534.1,1218.74 537.53,1230.92 540.96,1237.45 544.39,1238 547.82,1238 551.24,1238 554.67,1238 558.1,1238 561.53,1238 564.96,1238 568.39,1238 571.82,1238 575.25,1238 578.68,1238 582.11,1238 585.53,1238 588.96,1238 592.39,1238 595.82,1238 599.25,1238 602.68,1238 606.11,1238 609.54,1238 612.97,1238 616.4,1238 619.82,1238 623.25,1238 626.68,1238 630.11,1238 633.54,1238 636.97,1238 640.4,1238 643.83,1238 647.26,1238 650.69,1238 654.11,1238 657.54,1238 660.97,1238 664.4,1238 667.83,1238 671.26,1238 674.69,1238 678.12,1238 681.55,1238 681.55,1238" fill="#0000ff"/>
<polyline points="84.9,1238 88.33,1238 91.76,1238 95.19,1238 98.62,1238 102.05,1238 105.47,1238 108.9,1238 112.33,1238 115.76,1238 119.19,1238 122.62,1238 126.05,1238 129.48,1238 132.91,1238 136.34,1238 139.76,1238 143.19,1238 146.62,1238 150.05,1238 153.48,1238 156.91,1238 160.34,1238 163.77,1238 167.2,1238 170.63,1238 174.05,1229.99 177.48,1197.06 180.91,1155.06 184.34,1116.86 187.77,1061.45 191.2,1018.41 194.63,984.65 198.06,946.22 201.49,912.34 204.92,879.55 208.34,855.28 211.77,835.28 215.2,815.89 218.63,802.91 222.06,795.07 225.49,790.56 228.92,789.5 232.35,792.92 235.78,802.15 239.21,815.7 242.63,828.48 246.06,846.66 249.49,866.98 252.92,888.44 256.35,907.21 259.78,928.63 263.21,950.47 266.64,972.33 270.07,996.94 273.5,1018.47 276.92,1040.73 280.35,1058.62 283.78,1069.79 287.21,1079.34 290.64,1095.87 294.07,1112.05 297.5,1122.93 300.93,1131.82 304.36,1138.69 307.79,1141.3 311.21,1141.05 314.64,1137.85 318.07,1133.95 321.5,1129.56 324.93,1124.94 328.36,1120.28 331.79,1115.76 335.22,1111.76 338.65,1108.44 342.08,1105.76 345.5,1104.16 348.93,1103.4 352.36,1104.02 355.79,1105.14 359.22,1106.84 362.65,1109.08 366.08,1112.21 369.51,1116.42 372.94,1120.48 376.37,1124.27 379.79,1127.48 383.22,1129.26 386.65,1130.19 390.08,1129.61 393.51,1128.06 396.94,1125.19 400.37,1120.73 403.8,1115.78 407.23,1110.45 410.66,1106.03 414.08,1102.29 417.51,1099.58 420.94,1097.57 424.37,1096.56 427.8,1095.96 431.23,1096.16 434.66,1097.35 438.09,1099.28 441.52,1102.9 444.95,1108.3 448.37,1116.57 451.8,1126.7 455.23,1136.7 458.66,1146.45 462.09,1156.57 465.52,1166.11 468.95,1175.52 472.38,1184.95 475.81,1193.28 479.24,1200.05 482.66,1206.3 486.09,1210.45 489.52,1212.31 492.95,1212.4 496.38,1211.93 499.81,1210.88 503.24,1208.29 506.67,1205.28 510.1,1203.15 513.53,1201.95 516.95,1201.7 520.38,1202.8 523.81,1204.73 527.24,1207.27 530.67,1211.26 534.1,1218.74 537.53,1230.92 540.96,1237.45 544.39,1238 547.82,1238 551.24,1238 554.67,1238 558.1,1238 561.53,1238 564.96,1238 568.39,1238 571.82,1238 575.25,1238 578.68,1238 582.11,1238 585.53,1238 588.96,1238 592.39,1238 595.82,1238 599.25,1238 602.68,1238 606.11,1238 609.54,1238 612.97,1238 616.4,1238 619.82,1238 623.25,1238 626.68,1238 630.11,1238 633.54,1238 636.97,1238 640.4,1238 643.83,1238 647.26,1238 650.69,1238 654.11,1238 657.54,1238 660.97,1238 664.4,1238 667.83,1238 671.26,1238 674.69,1238 678.12,1238 681.55,1238" fill="none" stroke="#0000ff" stroke-width="2"/>
<circle cx="84.9" cy="1238" r="3.25" fill="url(#gb)"/>
<circle cx="88.33" cy="1238" r="3.25" fill="url(#gb)"/>
<circle cx="91.76" cy="1238" r="3.25" fill="url(#gb)"/>
<circle cx="95.19" cy="1238" r="3.25" fill="url(#gb)"/>
<circle cx="98.62" cy="1238" r="3.25" fill="url(#gb)"/>
<circle cx="102.05" cy="1238" r="3.25" fill="url(#gb)"/>
<circle cx="105.47" cy="1238" r="3.25" fill="url(#gb)"/>
<circle cx="108.9" cy="1238" r="3.25" fill="url(#gb)"/>
<circle cx="112.33" cy="1238" r="3.25" fill="url(#gb)"/>
<circle cx="115.76" cy="1238" r="3.25" fill="url(#gb)"/>
<circle cx="119.19" cy="1238" r="3.25" fill="url(#gb)"/>
<circle cx="122.62" cy="1238" r="3.25" fill="url(#gb)"/>
<circle cx="126.05" cy="1238" r="3.25" fill="url(#gb)"/>
<circle cx="129.48" cy="1238" r="3.25" fill="url(#gb)"/>
<circle cx="132.91" cy="1238" r="3.25" fill="url(#gb)"/>
<circle cx="136.34" cy="1238" r="3.25" fill="url(#gb)"/>
<circle cx="139.76" cy="1238" r="3.25" fill="url(#gb)"/>
<circle cx="143.19" cy="1238" r="3.25" fill="url(#gb)"/>
<circle cx="146.62" cy="1238" r="3.25" fill="url(#gb)"/>
<circle cx="150.05" cy="1238" r="3.25" fill="url(#gb)"/>
<circle cx="153.48" cy="1238" r="3.25" fill="url(#gb)"/>
<circle cx="156.91" cy="1238" r="3.25" fill="url(#gb)"/>
<circle cx="160.34" cy="1238" r="3.25" fill="url(#gb)"/>
<circle cx="163.77" cy="1238" r="3.25" fill="url(#gb)"/>
<circle cx="167.2" cy="1238" r="3.25" fill="url(#gb)"/>
<circle cx="170.63" cy="1238" r="3.25" fill="url(#gb)"/>
<circle cx="174.05" cy="1229.99" r="3.25" fill="url(#gb)"/>
<circle cx="177.48" cy="1197.06" r="3.25" fill="url(#gb)"/>
<circle cx="180.91" cy="1155.06" r="3.25" fill="url(#gb)"/>
<circle cx="184.34" cy="1116.86" r="3.25" fill="url(#gb)"/>
<circle cx="187.77" cy="1061.45" r="3.25" fill="url(#gb)"/>
<circle cx="191.2" cy="1018.41" r="3.25" fill="url(#gb)"/>
<circle cx="194.63" cy="984.65" r="3.25" fill="url(#gb)"/>
<circle cx="198.06" cy="946.22" r="3.25" fill="url(#gb)"/>
<circle cx="201.49" cy="912.34" r="3.25" fill="url(#gb)"/>
<circle cx="204.92" cy="879.55" r="3.25" fill="url(#gb)"/>
<circle cx="208.34" cy="855.28" r="3.25" fill="url(#gb)"/>
<circle cx="211.77" cy="835.28" r="3.25" fill="url(#gb)"/>
<circle cx="215.2" cy="815.89" r="3.25" fill="url(#gb)"/>
<circle cx="218.63" cy="802.91" r="3.25" fill="url(#gb)"/>
<circle cx="222.06" cy="795.07" r="3.25" fill="url(#gb)"/>
<circle cx="225.49" cy="790.56" r="3.25" fill="url(#gb)"/>
<circle cx="228.92" cy="789.5" r="3.25" fill="url(#gb)"/>
<circle cx="232.35" cy="792.92" r="3.25" fill="url(#gb)"/>
<circle cx="235.78" cy="802.15" r="3.25" fill="url(#gb)"/>
<circle cx="239.21" cy="815.7" r="3.25" fill="url(#gb)"/>
<circle cx="242.63" cy="828.48" r="3.25" fill="url(#gb)"/>
<circle cx="246.06" cy="846.66" r="3.25" fill="url(#gb)"/>
<circle cx="249.49" cy="866.98" r="3.25" fill="url(#gb)"/>
<circle cx="252.92" cy="888.44" r="3.25" fill="url(#gb)"/>
<circle cx="256.35" cy="907.21" r="3.25" fill="url(#gb)"/>
<circle cx="259.78" cy="928.63" r="3.25" fill="url(#gb)"/>
<circle cx="263.21" cy="950.47" r="3.25" fill="url(#gb)"/>
<circle cx="266.64" cy="972.33" r="3.25" fill="url(#gb)"/>
<circle cx="270.07" cy="996.94" r="3.25" fill="url(#gb)"/>
<circle cx="273.5" cy="1018.47" r="3.25" fill="url(#gb)"/>
<circle cx="276.92" cy="1040.73" r="3.25" fill="url(#gb)"/>
<circle cx="280.35" cy="1058.62" r="3.25" fill="url(#gb)"/>
<circle cx="283.78" cy="1069.79" r="3.25" fill="url(#gb)"/>
<circle cx="287.21" cy="1079.34" r="3.25" fill="url(#gb)"/>
<circle cx="290.64" cy="1095.87" r="3.25" fill="url(#gb)"/>
<circle cx="294.07" cy="1112.05" r="3.25" fill="url(#gb)"/>
<circle cx="297.5" cy="1122.93" r="3.25" fill="url(#gb)"/>
<circle cx="300.93" cy="1131.82" r="3.25" fill="url(#gb)"/>
<circle cx="304.36" cy="1138.69" r="3.25" fill="url(#gb)"/>
<circle cx="307.79" cy="1141.3" r="3.25" fill="url(#gb)"/>
<circle cx="311.21" cy="1141.05" r="3.25" fill="url(#gb)"/>
<circle cx="314.64" cy="1137.85" r="3.25" fill="url(#gb)"/>
<circle cx="318.07" cy="1133.95" r="3.25" fill="url(#gb)"/>
<circle cx="321.5" cy="1129.56" r="3.25" fill="url(#gb)"/>
<circle cx="324.93" cy="1124.94" r="3.25" fill="url(#gb)"/>
<circle cx="328.36" cy="1120.28" r="3.25" fill="url(#gb)"/>
<circle cx="331.79" cy="1115.76" r="3.25" fill="url(#gb)"/>
<circle cx="335.22" cy="1111.76" r="3.25" fill="url(#gb)"/>
<circle cx="338.65" cy="1108.44" r="3.25" fill="url(#gb)"/>
<circle cx="342.08" cy="1105.76" r="3.25" fill="url(#gb)"/>
<circle cx="345.5" cy="1104.16" r="3.25" fill="url(#gb)"/>
<circle cx="348.93" cy="1103.4" r="3.25" fill="url(#gb)"/>
<circle cx="352.36" cy="1104.02" r="3.25" fill="url(#gb)"/>
<circle cx="355.79" cy="1105.14" r="3.25" fill="url(#gb)"/>
<circle cx="359.22" cy="1106.84" r="3.25" fill="url(#gb)"/>
<circle cx="362.65" cy="1109.08" r="3.25" fill="url(#gb)"/>
<circle cx="366.08" cy="1112.21" r="3.25" fill="url(#gb)"/>
<circle cx="369.51" cy="1116.42" r="3.25" fill="url(#gb)"/>
<circle cx="372.94" cy="1120.48" r="3.25" fill="url(#gb)"/>
<circle cx="376.37" cy="1124.27" r="3.25" fill="url(#gb)"/>
<circle cx="379.79" cy="1127.48" r="3.25" fill="url(#gb)"/>
<circle cx="383.22" cy="1129.26" r="3.25" fill="url(#gb)"/>
<circle cx="386.65" cy="1130.19" r="3.25" fill="url(#gb)"/>
<circle cx="390.08" cy="1129.61" r="3.25" fill="url(#gb)"/>
<circle cx="393.51" cy="1128.06" r="3.25" fill="url(#gb)"/>
<circle cx="396.94" cy="1125.19" r="3.25" fill="url(#gb)"/>
<circle cx="400.37" cy="1120.73" r="3.25" fill="url(#gb)"/>
<circle cx="403.8" cy="1115.78" r="3.25" fill="url(#gb)"/>
<circle cx="407.23" cy="1110.45" r="3.25" fill="url(#gb)"/>
<circle cx="410.66" cy="1106.03" r="3.25" fill="url(#gb)"/>
<circle cx="414.08" cy="1102.29" r="3.25" fill="url(#gb)"/>
<circle cx="417.51" cy="1099.58" r="3.25" fill="url(#gb)"/>
<circle cx="420.94" cy="1097.57" r="3.25" fill="url(#gb)"/>
<circle cx="424.37" cy="1096.56" r="3.25" fill="url(#gb)"/>
<circle cx="427.8" cy="1095.96" r="3.25" fill="url(#gb)"/>
<circle cx="431.23" cy="1096.16" r="3.25" fill="url(#gb)"/>
<circle cx="434.66" cy="1097.35" r="3.25" fill="url(#gb)"/>
<circle cx="438.09" cy="1099.28" r="3.25" fill="url(#gb)"/>
<circle cx="441.52" cy="1102.9" r="3.25" fill="url(#gb)"/>
<circle cx="444.95" cy="1108.3" r="3.25" fill="url(#gb)"/>
<circle cx="448.37" cy="1116.57" r="3.25" fill="url(#gb)"/>
<circle cx="451.8" cy="1126.7" r="3.25" fill="url(#gb)"/>
<circle cx="455.23" cy="1136.7" r="3.25" fill="url(#gb)"/>
<circle cx="458.66" cy="1146.45" r="3.25" fill="url(#gb)"/>
<circle cx="462.09" cy="1156.57" r="3.25" fill="url(#gb)"/>
<circle cx="465.52" cy="1166.11" r="3.25" fill="url(#gb)"/>
<circle cx="468.95" cy="1175.52" r="3.25" fill="url(#gb)"/>
<circle cx="472.38" cy="1184.95" r="3.25" fill="url(#gb)"/>
<circle cx="475.81" cy="1193.28" r="3.25" fill="url(#gb)"/>
<circle cx="479.24" cy="1200.05" r="3.25" fill="url(#gb)"/>
<circle cx="482.66" cy="1206.3" r="3.25" fill="url(#gb)"/>
<circle cx="486.09" cy="1210.45" r="3.25" fill="url(#gb)"/>
<circle cx="489.52" cy="1212.31" r="3.25" fill="url(#gb)"/>
<circle cx="492.95" cy="1212.4" r="3.25" fill="url(#gb)"/>
<circle cx="496.38" cy="1211.93" r="3.25" fill="url(#gb)"/>
<circle cx="499.81" cy="1210.88" r="3.25" fill="url(#gb)"/>
<circle cx="503.24" cy="1208.29" r="3.25" fill="url(#gb)"/>
<circle cx="506.67" cy="1205.28" r="3.25" fill="url(#gb)"/>
<circle cx="510.1" cy="1203.15" r="3.25" fill="url(#gb)"/>
<circle cx="513.53" cy="1201.95" r="3.25" fill="url(#gb)"/>
<circle cx="516.95" cy="1201.7" r="3.25" fill="url(#gb)"/>
<circle cx="520.38" cy="1202.8" r="3.25" fill="url(#gb)"/>
<circle cx="523.81" cy="1204.73" r="3.25" fill="url(#gb)"/>
<circle cx="527.24" cy="1207.27" r="3.25" fill="url(#gb)"/>
<circle cx="530.67" cy="1211.26" r="3.25" fill="url(#gb)"/>
<circle cx="534.1" cy="1218.74" r="3.25" fill="url(#gb)"/>
<circle cx="537.53" cy="1230.92" r="3.25" fill="url(#gb)"/>
<circle cx="540.96" cy="1237.45" r="3.25" fill="url(#gb)"/>
<circle cx="544.39" cy="1238" r="3.25" fill="url(#gb)"/>
<circle cx="547.82" cy="1238" r="3.25" fill="url(#gb)"/>
<circle cx="551.24" cy="1238" r="3.25" fill="url(#gb)"/>
<circle cx="554.67" cy="1238" r="3.25" fill="url(#gb)"/>
<circle cx="558.1" cy="1238" r="3.25" fill="url(#gb)"/>
<circle cx="561.53" cy="1238" r="3.25" fill="url(#gb)"/>
<circle cx="564.96" cy="1238" r="3.25" fill="url(#gb)"/>
<circle cx="568.39" cy="1238" r="3.25" fill="url(#gb)"/>
<circle cx="571.82" cy="1238" r="3.25" fill="url(#gb)"/>
<circle cx="575.25" cy="1238" r="3.25" fill="url(#gb)"/>
<circle cx="578.68" cy="1238" r="3.25" fill="url(#gb)"/>
<circle cx="582.11" cy="1238" r="3.25" fill="url(#gb)"/>
<circle cx="585.53" cy="1238" r="3.25" fill="url(#gb)"/>
<circle cx="588.96" cy="1238" r="3.25" fill="url(#gb)"/>
<circle cx="592.39" cy="1238" r="3.25" fill="url(#gb)"/>
<circle cx="595.82" cy="1238" r="3.25" fill="url(#gb)"/>
<circle cx="599.25" cy="1238" r="3.25" fill="url(#gb)"/>
<circle cx="602.68" cy="1238" r="3.25" fill="url(#gb)"/>
<circle cx="606.11" cy="1238" r="3.25" fill="url(#gb)"/>
<circle cx="609.54" cy="1238" r="3.25" fill="url(#gb)"/>
<circle cx="612.97" cy="1238" r="3.25" fill="url(#gb)"/>
<circle cx="616.4" cy="1238" r="3.25" fill="url(#gb)"/>
<circle cx="619.82" cy="1238" r="3.25" fill="url(#gb)"/>
<circle cx="623.25" cy="1238" r="3.25" fill="url(#gb)"/>
<circle cx="626.68" cy="1238" r="3.25" fill="url(#gb)"/>
<circle cx="630.11" cy="1238" r="3.25" fill="url(#gb)"/>
<circle cx="633.54" cy="1238" r="3.25" fill="url(#gb)"/>
<circle cx="636.97" cy="1238" r="3.25" fill="url(#gb)"/>
<circle cx="640.4" cy="1238" r="3.25" fill="url(#gb)"/>
<circle cx="643.83" cy="1238" r="3.25" fill="url(#gb)"/>
<circle cx="647.26" cy="1238" r="3.25" fill="url(#gb)"/>
<circle cx="650.69" cy="1238" r="3.25" fill="url(#gb)"/>
<circle cx="654.11" cy="1238" r="3.25" fill="url(#gb)"/>
<circle cx="657.54" cy="1238" r="3.25" fill="url(#gb)"/>
<circle cx="660.97" cy="1238" r="3.25" fill="url(#gb)"/>
<circle cx="664.4" cy="1238" r="3.25" fill="url(#gb)"/>
<circle cx="667.83" cy="1238" r="3.25" fill="url(#gb)"/>
<circle cx="671.26" cy="1238" r="3.25" fill="url(#gb)"/>
<circle cx="674.69" cy="1238" r="3.25" fill="url(#gb)"/>
<circle cx="678.12" cy="1238" r="3.25" fill="url(#gb)"/>
<circle cx="681.55" cy="1238" r="3.25" fill="url(#gb)"/>
<polygon points="86.2,1238 86.2,1238 89.63,1238 93.06,1238 96.49,1238 99.92,1238 103.35,1238 106.77,1238 110.2,1238 113.63,1238 117.06,1238 120.49,1238 123.92,1238 127.35,1238 130.78,1238 134.21,1238 137.64,1238 141.06,1238 144.49,1238 147.92,1238 151.35,1238 154.78,1238 158.21,1238 161.64,1238 165.07,1238 168.5,1238 171.93,1238 175.35,1238 178.78,1236.91 182.21,1196.94 185.64,1151.5 189.07,1104.31 192.5,1051.23 195.93,1008.36 199.36,967.62 202.79,925.65 206.22,892.07 209.64,865.47 213.07,840.53 216.5,819.38 219.93,804.79 223.36,794.74 226.79,787.76 230.22,786.3 233.65,787.94 237.08,796.46 240.51,807.61 243.93,819.98 247.36,840.18 250.79,859.58 254.22,879.5 257.65,900.95 261.08,925.2 264.51,947.64 267.94,972.17 271.37,995.13 274.8,1018.64 278.22,1043.95 281.65,1063.38 285.08,1082.99 288.51,1101.24 291.94,1116.36 295.37,1129.13 298.8,1137.92 302.23,1144.2 305.66,1147.81 309.09,1148.84 312.51,1147.05 315.94,1143.36 319.37,1138.27 322.8,1132.21 326.23,1124.63 329.66,1116.48 333.09,1109.67 336.52,1102.96 339.95,1098.12 343.38,1094.9 346.8,1092.97 350.23,1092.67 353.66,1094.1 357.09,1096.54 360.52,1099.75 363.95,1104.12 367.38,1108.86 370.81,1113.66 374.24,1117.69 377.67,1120.93 381.09,1123.22 384.52,1124.8 387.95,1125.1 391.38,1123.91 394.81,1121.59 398.24,1118.28 401.67,1113.81 405.1,1109.06 408.53,1104.32 411.96,1100.13 415.38,1095.87 418.81,1092.57 422.24,1090.6 425.67,1089.6 429.1,1089.6 432.53,1090.67 435.96,1092.69 439.39,1096.05 442.82,1101.02 446.25,1107.79 449.67,1114.36 453.1,1121.52 456.53,1129.12 459.96,1136.8 463.39,1145.36 466.82,1153.32 470.25,1160.29 473.68,1167.47 477.11,1174.74 480.54,1182.16 483.96,1189.48 487.39,1196.3 490.82,1203.1 494.25,1209.18 497.68,1215.06 501.11,1221.94 504.54,1228.31 507.97,1232.79 511.4,1233.56 514.83,1233.41 518.25,1233.3 521.68,1233.21 525.11,1233.12 528.54,1233.04 531.97,1232.94 535.4,1232.83 538.83,1232.71 542.26,1232.59 545.69,1232.5 549.12,1232.43 552.54,1232.4 555.97,1232.48 559.4,1232.69 562.83,1232.99 566.26,1233.34 569.69,1233.7 573.12,1234.03 576.55,1234.29 579.98,1234.54 583.41,1234.79 586.83,1235.03 590.26,1235.26 593.69,1235.44 597.12,1235.58 600.55,1235.67 603.98,1235.76 607.41,1235.84 610.84,1235.91 614.27,1235.96 617.7,1235.99 621.12,1236 624.55,1235.98 627.98,1235.94 631.41,1235.88 634.84,1235.81 638.27,1235.73 641.7,1235.64 645.13,1235.54 648.56,1235.4 651.99,1235.22 655.41,1235.02 658.84,1234.81 662.27,1234.6 665.7,1234.41 669.13,1234.22 672.56,1234.03 675.99,1233.84 679.42,1233.66 682.85,1233.46 682.85,1238" fill="#00ff00" fill-opacity="0.5"/>
<line x1="172" y1="1238.3" x2="542" y2="1238.3" stroke="#0050b0" stroke-width="1.1"/>
<polyline points="86.2,1238 89.63,1238 93.06,1238 96.49,1238 99.92,1238 103.35,1238 106.77,1238 110.2,1238 113.63,1238 117.06,1238 120.49,1238 123.92,1238 127.35,1238 130.78,1238 134.21,1238 137.64,1238 141.06,1238 144.49,1238 147.92,1238 151.35,1238 154.78,1238 158.21,1238 161.64,1238 165.07,1238 168.5,1238 171.93,1238 175.35,1238 178.78,1236.91 182.21,1196.94 185.64,1151.5 189.07,1104.31 192.5,1051.23 195.93,1008.36 199.36,967.62 202.79,925.65 206.22,892.07 209.64,865.47 213.07,840.53 216.5,819.38 219.93,804.79 223.36,794.74 226.79,787.76 230.22,786.3 233.65,787.94 237.08,796.46 240.51,807.61 243.93,819.98 247.36,840.18 250.79,859.58 254.22,879.5 257.65,900.95 261.08,925.2 264.51,947.64 267.94,972.17 271.37,995.13 274.8,1018.64 278.22,1043.95 281.65,1063.38 285.08,1082.99 288.51,1101.24 291.94,1116.36 295.37,1129.13 298.8,1137.92 302.23,1144.2 305.66,1147.81 309.09,1148.84 312.51,1147.05 315.94,1143.36 319.37,1138.27 322.8,1132.21 326.23,1124.63 329.66,1116.48 333.09,1109.67 336.52,1102.96 339.95,1098.12 343.38,1094.9 346.8,1092.97 350.23,1092.67 353.66,1094.1 357.09,1096.54 360.52,1099.75 363.95,1104.12 367.38,1108.86 370.81,1113.66 374.24,1117.69 377.67,1120.93 381.09,1123.22 384.52,1124.8 387.95,1125.1 391.38,1123.91 394.81,1121.59 398.24,1118.28 401.67,1113.81 405.1,1109.06 408.53,1104.32 411.96,1100.13 415.38,1095.87 418.81,1092.57 422.24,1090.6 425.67,1089.6 429.1,1089.6 432.53,1090.67 435.96,1092.69 439.39,1096.05 442.82,1101.02 446.25,1107.79 449.67,1114.36 453.1,1121.52 456.53,1129.12 459.96,1136.8 463.39,1145.36 466.82,1153.32 470.25,1160.29 473.68,1167.47 477.11,1174.74 480.54,1182.16 483.96,1189.48 487.39,1196.3 490.82,1203.1 494.25,1209.18 497.68,1215.06 501.11,1221.94 504.54,1228.31 507.97,1232.79 511.4,1233.56 514.83,1233.41 518.25,1233.3 521.68,1233.21 525.11,1233.12 528.54,1233.04 531.97,1232.94 535.4,1232.83 538.83,1232.71 542.26,1232.59 545.69,1232.5 549.12,1232.43 552.54,1232.4 555.97,1232.48 559.4,1232.69 562.83,1232.99 566.26,1233.34 569.69,1233.7 573.12,1234.03 576.55,1234.29 579.98,1234.54 583.41,1234.79 586.83,1235.03 590.26,1235.26 593.69,1235.44 597.12,1235.58 600.55,1235.67 603.98,1235.76 607.41,1235.84 610.84,1235.91 614.27,1235.96 617.7,1235.99 621.12,1236 624.55,1235.98 627.98,1235.94 631.41,1235.88 634.84,1235.81 638.27,1235.73 641.7,1235.64 645.13,1235.54 648.56,1235.4 651.99,1235.22 655.41,1235.02 658.84,1234.81 662.27,1234.6 665.7,1234.41 669.13,1234.22 672.56,1234.03 675.99,1233.84 679.42,1233.66 682.85,1233.46" fill="none" stroke="#00ff00" stroke-width="2"/>
<circle cx="86.2" cy="1238" r="3.75" fill="url(#gg)"/>
<circle cx="89.63" cy="1238" r="3.75" fill="url(#gg)"/>
<circle cx="93.06" cy="1238" r="3.75" fill="url(#gg)"/>
<circle cx="96.49" cy="1238" r="3.75" fill="url(#gg)"/>
<circle cx="99.92" cy="1238" r="3.75" fill="url(#gg)"/>
<circle cx="103.35" cy="1238" r="3.75" fill="url(#gg)"/>
<circle cx="106.77" cy="1238" r="3.75" fill="url(#gg)"/>
<circle cx="110.2" cy="1238" r="3.75" fill="url(#gg)"/>
<circle cx="113.63" cy="1238" r="3.75" fill="url(#gg)"/>
<circle cx="117.06" cy="1238" r="3.75" fill="url(#gg)"/>
<circle cx="120.49" cy="1238" r="3.75" fill="url(#gg)"/>
<circle cx="123.92" cy="1238" r="3.75" fill="url(#gg)"/>
<circle cx="127.35" cy="1238" r="3.75" fill="url(#gg)"/>
<circle cx="130.78" cy="1238" r="3.75" fill="url(#gg)"/>
<circle cx="134.21" cy="1238" r="3.75" fill="url(#gg)"/>
<circle cx="137.64" cy="1238" r="3.75" fill="url(#gg)"/>
<circle cx="141.06" cy="1238" r="3.75" fill="url(#gg)"/>
<circle cx="144.49" cy="1238" r="3.75" fill="url(#gg)"/>
<circle cx="147.92" cy="1238" r="3.75" fill="url(#gg)"/>
<circle cx="151.35" cy="1238" r="3.75" fill="url(#gg)"/>
<circle cx="154.78" cy="1238" r="3.75" fill="url(#gg)"/>
<circle cx="158.21" cy="1238" r="3.75" fill="url(#gg)"/>
<circle cx="161.64" cy="1238" r="3.75" fill="url(#gg)"/>
<circle cx="165.07" cy="1238" r="3.75" fill="url(#gg)"/>
<circle cx="168.5" cy="1238" r="3.75" fill="url(#gg)"/>
<circle cx="171.93" cy="1238" r="3.75" fill="url(#gg)"/>
<circle cx="175.35" cy="1238" r="3.75" fill="url(#gg)"/>
<circle cx="178.78" cy="1236.91" r="3.75" fill="url(#gg)"/>
<circle cx="182.21" cy="1196.94" r="3.75" fill="url(#gg)"/>
<circle cx="185.64" cy="1151.5" r="3.75" fill="url(#gg)"/>
<circle cx="189.07" cy="1104.31" r="3.75" fill="url(#gg)"/>
<circle cx="192.5" cy="1051.23" r="3.75" fill="url(#gg)"/>
<circle cx="195.93" cy="1008.36" r="3.75" fill="url(#gg)"/>
<circle cx="199.36" cy="967.62" r="3.75" fill="url(#gg)"/>
<circle cx="202.79" cy="925.65" r="3.75" fill="url(#gg)"/>
<circle cx="206.22" cy="892.07" r="3.75" fill="url(#gg)"/>
<circle cx="209.64" cy="865.47" r="3.75" fill="url(#gg)"/>
<circle cx="213.07" cy="840.53" r="3.75" fill="url(#gg)"/>
<circle cx="216.5" cy="819.38" r="3.75" fill="url(#gg)"/>
<circle cx="219.93" cy="804.79" r="3.75" fill="url(#gg)"/>
<circle cx="223.36" cy="794.74" r="3.75" fill="url(#gg)"/>
<circle cx="226.79" cy="787.76" r="3.75" fill="url(#gg)"/>
<circle cx="230.22" cy="786.3" r="3.75" fill="url(#gg)"/>
<circle cx="233.65" cy="787.94" r="3.75" fill="url(#gg)"/>
<circle cx="237.08" cy="796.46" r="3.75" fill="url(#gg)"/>
<circle cx="240.51" cy="807.61" r="3.75" fill="url(#gg)"/>
<circle cx="243.93" cy="819.98" r="3.75" fill="url(#gg)"/>
<circle cx="247.36" cy="840.18" r="3.75" fill="url(#gg)"/>
<circle cx="250.79" cy="859.58" r="3.75" fill="url(#gg)"/>
<circle cx="254.22" cy="879.5" r="3.75" fill="url(#gg)"/>
<circle cx="257.65" cy="900.95" r="3.75" fill="url(#gg)"/>
<circle cx="261.08" cy="925.2" r="3.75" fill="url(#gg)"/>
<circle cx="264.51" cy="947.64" r="3.75" fill="url(#gg)"/>
<circle cx="267.94" cy="972.17" r="3.75" fill="url(#gg)"/>
<circle cx="271.37" cy="995.13" r="3.75" fill="url(#gg)"/>
<circle cx="274.8" cy="1018.64" r="3.75" fill="url(#gg)"/>
<circle cx="278.22" cy="1043.95" r="3.75" fill="url(#gg)"/>
<circle cx="281.65" cy="1063.38" r="3.75" fill="url(#gg)"/>
<circle cx="285.08" cy="1082.99" r="3.75" fill="url(#gg)"/>
<circle cx="288.51" cy="1101.24" r="3.75" fill="url(#gg)"/>
<circle cx="291.94" cy="1116.36" r="3.75" fill="url(#gg)"/>
<circle cx="295.37" cy="1129.13" r="3.75" fill="url(#gg)"/>
<circle cx="298.8" cy="1137.92" r="3.75" fill="url(#gg)"/>
<circle cx="302.23" cy="1144.2" r="3.75" fill="url(#gg)"/>
<circle cx="305.66" cy="1147.81" r="3.75" fill="url(#gg)"/>
<circle cx="309.09" cy="1148.84" r="3.75" fill="url(#gg)"/>
<circle cx="312.51" cy="1147.05" r="3.75" fill="url(#gg)"/>
<circle cx="315.94" cy="1143.36" r="3.75" fill="url(#gg)"/>
<circle cx="319.37" cy="1138.27" r="3.75" fill="url(#gg)"/>
<circle cx="322.8" cy="1132.21" r="3.75" fill="url(#gg)"/>
<circle cx="326.23" cy="1124.63" r="3.75" fill="url(#gg)"/>
<circle cx="329.66" cy="1116.48" r="3.75" fill="url(#gg)"/>
<circle cx="333.09" cy="1109.67" r="3.75" fill="url(#gg)"/>
<circle cx="336.52" cy="1102.96" r="3.75" fill="url(#gg)"/>
<circle cx="339.95" cy="1098.12" r="3.75" fill="url(#gg)"/>
<circle cx="343.38" cy="1094.9" r="3.75" fill="url(#gg)"/>
<circle cx="346.8" cy="1092.97" r="3.75" fill="url(#gg)"/>
<circle cx="350.23" cy="1092.67" r="3.75" fill="url(#gg)"/>
<circle cx="353.66" cy="1094.1" r="3.75" fill="url(#gg)"/>
<circle cx="357.09" cy="1096.54" r="3.75" fill="url(#gg)"/>
<circle cx="360.52" cy="1099.75" r="3.75" fill="url(#gg)"/>
<circle cx="363.95" cy="1104.12" r="3.75" fill="url(#gg)"/>
<circle cx="367.38" cy="1108.86" r="3.75" fill="url(#gg)"/>
<circle cx="370.81" cy="1113.66" r="3.75" fill="url(#gg)"/>
<circle cx="374.24" cy="1117.69" r="3.75" fill="url(#gg)"/>
<circle cx="377.67" cy="1120.93" r="3.75" fill="url(#gg)"/>
<circle cx="381.09" cy="1123.22" r="3.75" fill="url(#gg)"/>
<circle cx="384.52" cy="1124.8" r="3.75" fill="url(#gg)"/>
<circle cx="387.95" cy="1125.1" r="3.75" fill="url(#gg)"/>
<circle cx="391.38" cy="1123.91" r="3.75" fill="url(#gg)"/>
<circle cx="394.81" cy="1121.59" r="3.75" fill="url(#gg)"/>
<circle cx="398.24" cy="1118.28" r="3.75" fill="url(#gg)"/>
<circle cx="401.67" cy="1113.81" r="3.75" fill="url(#gg)"/>
<circle cx="405.1" cy="1109.06" r="3.75" fill="url(#gg)"/>
<circle cx="408.53" cy="1104.32" r="3.75" fill="url(#gg)"/>
<circle cx="411.96" cy="1100.13" r="3.75" fill="url(#gg)"/>
<circle cx="415.38" cy="1095.87" r="3.75" fill="url(#gg)"/>
<circle cx="418.81" cy="1092.57" r="3.75" fill="url(#gg)"/>
<circle cx="422.24" cy="1090.6" r="3.75" fill="url(#gg)"/>
<circle cx="425.67" cy="1089.6" r="3.75" fill="url(#gg)"/>
<circle cx="429.1" cy="1089.6" r="3.75" fill="url(#gg)"/>
<circle cx="432.53" cy="1090.67" r="3.75" fill="url(#gg)"/>
<circle cx="435.96" cy="1092.69" r="3.75" fill="url(#gg)"/>
<circle cx="439.39" cy="1096.05" r="3.75" fill="url(#gg)"/>
<circle cx="442.82" cy="1101.02" r="3.75" fill="url(#gg)"/>
<circle cx="446.25" cy="1107.79" r="3.75" fill="url(#gg)"/>
<circle cx="449.67" cy="1114.36" r="3.75" fill="url(#gg)"/>
<circle cx="453.1" cy="1121.52" r="3.75" fill="url(#gg)"/>
<circle cx="456.53" cy="1129.12" r="3.75" fill="url(#gg)"/>
<circle cx="459.96" cy="1136.8" r="3.75" fill="url(#gg)"/>
<circle cx="463.39" cy="1145.36" r="3.75" fill="url(#gg)"/>
<circle cx="466.82" cy="1153.32" r="3.75" fill="url(#gg)"/>
<circle cx="470.25" cy="1160.29" r="3.75" fill="url(#gg)"/>
<circle cx="473.68" cy="1167.47" r="3.75" fill="url(#gg)"/>
<circle cx="477.11" cy="1174.74" r="3.75" fill="url(#gg)"/>
<circle cx="480.54" cy="1182.16" r="3.75" fill="url(#gg)"/>
<circle cx="483.96" cy="1189.48" r="3.75" fill="url(#gg)"/>
<circle cx="487.39" cy="1196.3" r="3.75" fill="url(#gg)"/>
<circle cx="490.82" cy="1203.1" r="3.75" fill="url(#gg)"/>
<circle cx="494.25" cy="1209.18" r="3.75" fill="url(#gg)"/>
<circle cx="497.68" cy="1215.06" r="3.75" fill="url(#gg)"/>
<circle cx="501.11" cy="1221.94" r="3.75" fill="url(#gg)"/>
<circle cx="504.54" cy="1228.31" r="3.75" fill="url(#gg)"/>
<circle cx="507.97" cy="1232.79" r="3.75" fill="url(#gg)"/>
<circle cx="511.4" cy="1233.56" r="3.75" fill="url(#gg)"/>
<circle cx="514.83" cy="1233.41" r="3.75" fill="url(#gg)"/>
<circle cx="518.25" cy="1233.3" r="3.75" fill="url(#gg)"/>
<circle cx="521.68" cy="1233.21" r="3.75" fill="url(#gg)"/>
<circle cx="525.11" cy="1233.12" r="3.75" fill="url(#gg)"/>
<circle cx="528.54" cy="1233.04" r="3.75" fill="url(#gg)"/>
<circle cx="531.97" cy="1232.94" r="3.75" fill="url(#gg)"/>
<circle cx="535.4" cy="1232.83" r="3.75" fill="url(#gg)"/>
<circle cx="538.83" cy="1232.71" r="3.75" fill="url(#gg)"/>
<circle cx="542.26" cy="1232.59" r="3.75" fill="url(#gg)"/>
<circle cx="545.69" cy="1232.5" r="3.75" fill="url(#gg)"/>
<circle cx="549.12" cy="1232.43" r="3.75" fill="url(#gg)"/>
<circle cx="552.54" cy="1232.4" r="3.75" fill="url(#gg)"/>
<circle cx="555.97" cy="1232.48" r="3.75" fill="url(#gg)"/>
<circle cx="559.4" cy="1232.69" r="3.75" fill="url(#gg)"/>
<circle cx="562.83" cy="1232.99" r="3.75" fill="url(#gg)"/>
<circle cx="566.26" cy="1233.34" r="3.75" fill="url(#gg)"/>
<circle cx="569.69" cy="1233.7" r="3.75" fill="url(#gg)"/>
<circle cx="573.12" cy="1234.03" r="3.75" fill="url(#gg)"/>
<circle cx="576.55" cy="1234.29" r="3.75" fill="url(#gg)"/>
<circle cx="579.98" cy="1234.54" r="3.75" fill="url(#gg)"/>
<circle cx="583.41" cy="1234.79" r="3.75" fill="url(#gg)"/>
<circle cx="586.83" cy="1235.03" r="3.75" fill="url(#gg)"/>
<circle cx="590.26" cy="1235.26" r="3.75" fill="url(#gg)"/>
<circle cx="593.69" cy="1235.44" r="3.75" fill="url(#gg)"/>
<circle cx="597.12" cy="1235.58" r="3.75" fill="url(#gg)"/>
<circle cx="600.55" cy="1235.67" r="3.75" fill="url(#gg)"/>
<circle cx="603.98" cy="1235.76" r="3.75" fill="url(#gg)"/>
<circle cx="607.41" cy="1235.84" r="3.75" fill="url(#gg)"/>
<circle cx="610.84" cy="1235.91" r="3.75" fill="url(#gg)"/>
<circle cx="614.27" cy="1235.96" r="3.75" fill="url(#gg)"/>
<circle cx="617.7" cy="1235.99" r="3.75" fill="url(#gg)"/>
<circle cx="621.12" cy="1236" r="3.75" fill="url(#gg)"/>
<circle cx="624.55" cy="1235.98" r="3.75" fill="url(#gg)"/>
<circle cx="627.98" cy="1235.94" r="3.75" fill="url(#gg)"/>
<circle cx="631.41" cy="1235.88" r="3.75" fill="url(#gg)"/>
<circle cx="634.84" cy="1235.81" r="3.75" fill="url(#gg)"/>
<circle cx="638.27" cy="1235.73" r="3.75" fill="url(#gg)"/>
<circle cx="641.7" cy="1235.64" r="3.75" fill="url(#gg)"/>
<circle cx="645.13" cy="1235.54" r="3.75" fill="url(#gg)"/>
<circle cx="648.56" cy="1235.4" r="3.75" fill="url(#gg)"/>
<circle cx="651.99" cy="1235.22" r="3.75" fill="url(#gg)"/>
<circle cx="655.41" cy="1235.02" r="3.75" fill="url(#gg)"/>
<circle cx="658.84" cy="1234.81" r="3.75" fill="url(#gg)"/>
<circle cx="662.27" cy="1234.6" r="3.75" fill="url(#gg)"/>
<circle cx="665.7" cy="1234.41" r="3.75" fill="url(#gg)"/>
<circle cx="669.13" cy="1234.22" r="3.75" fill="url(#gg)"/>
<circle cx="672.56" cy="1234.03" r="3.75" fill="url(#gg)"/>
<circle cx="675.99" cy="1233.84" r="3.75" fill="url(#gg)"/>
<circle cx="679.42" cy="1233.66" r="3.75" fill="url(#gg)"/>
<circle cx="682.85" cy="1233.46" r="3.75" fill="url(#gg)"/>
</g>
<g stroke="#000" fill="none">
<line x1="84.2" y1="732.01" x2="84.2" y2="1248.7" stroke-width="1.8"/>
<line x1="84.2" y1="1239.2" x2="684.75" y2="1239.2" stroke-width="1.2"/>
<line x1="73.2" y1="1238.4" x2="84.2" y2="1238.4" stroke-width="1.6"/>
<line x1="78.7" y1="1196.27" x2="84.2" y2="1196.27" stroke-width="1.6"/>
<line x1="73.2" y1="1154.13" x2="84.2" y2="1154.13" stroke-width="1.6"/>
<line x1="78.7" y1="1112" x2="84.2" y2="1112" stroke-width="1.6"/>
<line x1="73.2" y1="1069.87" x2="84.2" y2="1069.87" stroke-width="1.6"/>
<line x1="78.7" y1="1027.74" x2="84.2" y2="1027.74" stroke-width="1.6"/>
<line x1="73.2" y1="985.61" x2="84.2" y2="985.61" stroke-width="1.6"/>
<line x1="78.7" y1="943.47" x2="84.2" y2="943.47" stroke-width="1.6"/>
<line x1="73.2" y1="901.34" x2="84.2" y2="901.34" stroke-width="1.6"/>
<line x1="78.7" y1="859.21" x2="84.2" y2="859.21" stroke-width="1.6"/>
<line x1="73.2" y1="817.08" x2="84.2" y2="817.08" stroke-width="1.6"/>
<line x1="78.7" y1="774.94" x2="84.2" y2="774.94" stroke-width="1.6"/>
<line x1="73.2" y1="732.81" x2="84.2" y2="732.81" stroke-width="1.6"/>
<line x1="84.3" y1="1239.2" x2="84.3" y2="1248.7" stroke-width="1.8"/>
<line x1="118.35" y1="1239.2" x2="118.35" y2="1243.6" stroke-width="1.6"/>
<line x1="138.27" y1="1239.2" x2="138.27" y2="1243.6" stroke-width="1.6"/>
<line x1="152.41" y1="1239.2" x2="152.41" y2="1243.6" stroke-width="1.6"/>
<line x1="163.37" y1="1239.2" x2="163.37" y2="1243.6" stroke-width="1.6"/>
<line x1="172.32" y1="1239.2" x2="172.32" y2="1243.6" stroke-width="1.6"/>
<line x1="179.9" y1="1239.2" x2="179.9" y2="1243.6" stroke-width="1.6"/>
<line x1="186.46" y1="1239.2" x2="186.46" y2="1243.6" stroke-width="1.6"/>
<line x1="192.24" y1="1239.2" x2="192.24" y2="1243.6" stroke-width="1.6"/>
<line x1="197.42" y1="1239.2" x2="197.42" y2="1248.7" stroke-width="1.8"/>
<line x1="231.47" y1="1239.2" x2="231.47" y2="1243.6" stroke-width="1.6"/>
<line x1="251.39" y1="1239.2" x2="251.39" y2="1243.6" stroke-width="1.6"/>
<line x1="265.53" y1="1239.2" x2="265.53" y2="1243.6" stroke-width="1.6"/>
<line x1="276.49" y1="1239.2" x2="276.49" y2="1243.6" stroke-width="1.6"/>
<line x1="285.44" y1="1239.2" x2="285.44" y2="1243.6" stroke-width="1.6"/>
<line x1="293.02" y1="1239.2" x2="293.02" y2="1243.6" stroke-width="1.6"/>
<line x1="299.58" y1="1239.2" x2="299.58" y2="1243.6" stroke-width="1.6"/>
<line x1="305.36" y1="1239.2" x2="305.36" y2="1243.6" stroke-width="1.6"/>
<line x1="310.54" y1="1239.2" x2="310.54" y2="1248.7" stroke-width="1.8"/>
<line x1="344.59" y1="1239.2" x2="344.59" y2="1243.6" stroke-width="1.6"/>
<line x1="364.51" y1="1239.2" x2="364.51" y2="1243.6" stroke-width="1.6"/>
<line x1="378.65" y1="1239.2" x2="378.65" y2="1243.6" stroke-width="1.6"/>
<line x1="389.61" y1="1239.2" x2="389.61" y2="1243.6" stroke-width="1.6"/>
<line x1="398.56" y1="1239.2" x2="398.56" y2="1243.6" stroke-width="1.6"/>
<line x1="406.14" y1="1239.2" x2="406.14" y2="1243.6" stroke-width="1.6"/>
<line x1="412.7" y1="1239.2" x2="412.7" y2="1243.6" stroke-width="1.6"/>
<line x1="418.48" y1="1239.2" x2="418.48" y2="1243.6" stroke-width="1.6"/>
<line x1="423.66" y1="1239.2" x2="423.66" y2="1248.7" stroke-width="1.8"/>
<line x1="457.71" y1="1239.2" x2="457.71" y2="1243.6" stroke-width="1.6"/>
<line x1="477.63" y1="1239.2" x2="477.63" y2="1243.6" stroke-width="1.6"/>
<line x1="491.77" y1="1239.2" x2="491.77" y2="1243.6" stroke-width="1.6"/>
<line x1="502.73" y1="1239.2" x2="502.73" y2="1243.6" stroke-width="1.6"/>
<line x1="511.68" y1="1239.2" x2="511.68" y2="1243.6" stroke-width="1.6"/>
<line x1="519.26" y1="1239.2" x2="519.26" y2="1243.6" stroke-width="1.6"/>
<line x1="525.82" y1="1239.2" x2="525.82" y2="1243.6" stroke-width="1.6"/>
<line x1="531.6" y1="1239.2" x2="531.6" y2="1243.6" stroke-width="1.6"/>
<line x1="536.78" y1="1239.2" x2="536.78" y2="1248.7" stroke-width="1.8"/>
<line x1="570.83" y1="1239.2" x2="570.83" y2="1243.6" stroke-width="1.6"/>
<line x1="590.75" y1="1239.2" x2="590.75" y2="1243.6" stroke-width="1.6"/>
<line x1="604.89" y1="1239.2" x2="604.89" y2="1243.6" stroke-width="1.6"/>
<line x1="615.85" y1="1239.2" x2="615.85" y2="1243.6" stroke-width="1.6"/>
<line x1="624.8" y1="1239.2" x2="624.8" y2="1243.6" stroke-width="1.6"/>
<line x1="632.38" y1="1239.2" x2="632.38" y2="1243.6" stroke-width="1.6"/>
<line x1="638.94" y1="1239.2" x2="638.94" y2="1243.6" stroke-width="1.6"/>
<line x1="644.72" y1="1239.2" x2="644.72" y2="1243.6" stroke-width="1.6"/>
<line x1="649.9" y1="1239.2" x2="649.9" y2="1248.7" stroke-width="1.8"/>
<line x1="683.95" y1="1239.2" x2="683.95" y2="1243.6" stroke-width="1.6"/>
<line x1="683.95" y1="1239.2" x2="683.95" y2="1243.6" stroke-width="1.6"/>
</g>
<g font-family="Liberation Serif" font-size="27" fill="#000">
<text x="69.9" y="1246.7" text-anchor="end">0.0</text>
<text x="69.9" y="1162.43" text-anchor="end">0.5</text>
<text x="69.9" y="1078.17" text-anchor="end">1.0</text>
<text x="69.9" y="993.9" text-anchor="end">1.5</text>
<text x="69.9" y="909.64" text-anchor="end">2.0</text>
<text x="69.9" y="825.38" text-anchor="end">2.5</text>
<text x="69.9" y="741.11" text-anchor="end">3.0</text>
<text x="84.3" y="1277" text-anchor="middle">0.001</text>
<text x="197.42" y="1277" text-anchor="middle">0.01</text>
<text x="310.54" y="1277" text-anchor="middle">0.1</text>
<text x="423.66" y="1277" text-anchor="middle">1</text>
<text x="536.78" y="1277" text-anchor="middle">10</text>
<text x="649.9" y="1277" text-anchor="middle">100</text>
</g>
<line x1="99.1" y1="756.1" x2="145.7" y2="756.1" stroke="#0000ff" stroke-width="1.5"/>
<circle cx="122" cy="756.1" r="3.4" fill="url(#gb)"/>
<text x="148.8" y="762.4" font-family="Liberation Serif" font-size="20" word-spacing="0.9">N = 0</text>
<line x1="99.1" y1="780.8" x2="145.7" y2="780.8" stroke="#00ff00" stroke-width="1.5"/>
<circle cx="122" cy="780.8" r="3.4" fill="url(#gg)"/>
<text x="148.8" y="787.4" font-family="Liberation Serif" font-size="20" word-spacing="0.9">N = 50</text>
<rect x="509.3" y="892.11" width="43.6" height="244.79" fill="#2b6aa9" stroke="#000" stroke-width="1"/>
<rect x="509.3" y="803.93" width="43.6" height="88.18" fill="#00bf00" stroke="#000" stroke-width="1"/>
<rect x="509.3" y="747.6" width="43.6" height="56.33" fill="#aeeb2e" stroke="#000" stroke-width="1"/>
<rect x="564.5" y="895.11" width="42.9" height="241.79" fill="#2b6aa9" stroke="#000" stroke-width="1"/>
<rect x="564.5" y="799.57" width="42.9" height="95.53" fill="#00bf00" stroke="#000" stroke-width="1"/>
<rect x="564.5" y="747.6" width="42.9" height="51.97" fill="#aeeb2e" stroke="#000" stroke-width="1"/>
<line x1="552.9" y1="892.11" x2="564.5" y2="895.11" stroke="#000" stroke-width="1"/>
<line x1="552.9" y1="747.6" x2="564.5" y2="747.6" stroke="#000" stroke-width="1"/>
<line x1="552.9" y1="803.93" x2="564.5" y2="799.57" stroke="#000" stroke-width="1"/>
<g font-family="Liberation Sans" font-size="17.5" fill="#fff" text-anchor="middle">
<text x="530.3" y="780">14.47</text>
<text x="530.3" y="853.5">22.65</text>
<text x="530.3" y="1016.5">62.88</text>
<text x="585.15" y="780">13.35</text>
<text x="585.15" y="853.5">24.54</text>
<text x="585.15" y="1016.5">62.11</text>
</g>
<line x1="621.8" y1="747.1" x2="621.8" y2="1137.4" stroke="#888" stroke-width="1.2"/>
<g font-family="Liberation Serif" font-size="19.5">
<line x1="617.3" y1="1136.9" x2="621.8" y2="1136.9" stroke="#000" stroke-width="1.3"/>
<text x="630.5" y="1142.8">0</text>
<line x1="617.3" y1="1059.04" x2="621.8" y2="1059.04" stroke="#000" stroke-width="1.3"/>
<text x="630.5" y="1064.94">20</text>
<line x1="617.3" y1="981.18" x2="621.8" y2="981.18" stroke="#000" stroke-width="1.3"/>
<text x="630.5" y="987.08">40</text>
<line x1="617.3" y1="903.32" x2="621.8" y2="903.32" stroke="#000" stroke-width="1.3"/>
<text x="630.5" y="909.22">60</text>
<line x1="617.3" y1="825.46" x2="621.8" y2="825.46" stroke="#000" stroke-width="1.3"/>
<text x="630.5" y="831.36">80</text>
<line x1="617.3" y1="747.6" x2="621.8" y2="747.6" stroke="#000" stroke-width="1.3"/>
<text x="630.5" y="753.5">100</text>
</g>
<g font-family="Liberation Sans" font-size="19.5" text-anchor="middle">
<text x="530.6" y="1156">0</text>
<text x="585.45" y="1156">50</text>
</g>
<text x="576.5" y="1177.6" font-family="Liberation Serif" font-size="19" text-anchor="middle">Number of cycles</text>
<text transform="translate(673,927.3) rotate(-90)" font-family="Liberation Serif" font-size="18.7" text-anchor="middle">Cumulative pore volume ratio (%)</text>
<rect x="362" y="746.3" width="35" height="16.4" fill="#aeeb2e" stroke="#000" stroke-width="1"/>
<text x="404.2" y="758.7" font-family="Liberation Serif" font-size="15.6">Macropores</text>
<rect x="362" y="766.2" width="35" height="16.3" fill="#00bf00" stroke="#000" stroke-width="1"/>
<text x="404.2" y="778.5" font-family="Liberation Serif" font-size="15.6">Mesopores</text>
<rect x="362" y="785.5" width="35" height="16.4" fill="#2b6aa9" stroke="#000" stroke-width="1"/>
<text x="404.2" y="797.9" font-family="Liberation Serif" font-size="15.6">Micropores</text>
<text x="352.9" y="1307.2" font-family="Liberation Serif" font-size="27.5" text-anchor="middle">Pore radius (mm)</text>
<text transform="translate(18.9,984) rotate(-90)" font-family="Liberation Serif" font-size="27.5" text-anchor="middle">Pore volume ratio (%)</text>
<text x="208.7" y="1370.6" font-family="Liberation Serif" font-size="36.5">(d) distilled water</text>
</svg>
</body></html>
